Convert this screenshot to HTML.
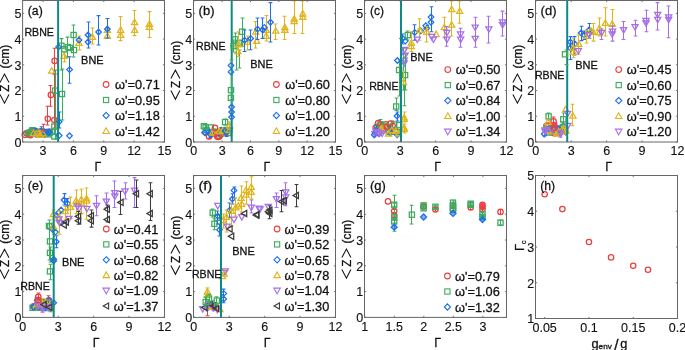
<!DOCTYPE html>
<html><head><meta charset="utf-8"><style>
html,body{margin:0;padding:0;background:#fff;overflow:hidden}
svg{display:block}
text{font-family:"Liberation Sans",sans-serif;fill:#111;stroke:#111;stroke-width:0.28px}
text.t{stroke-width:0.12px}
svg{will-change:transform}
</style></head><body>
<svg width="685" height="350" viewBox="0 0 685 350" font-family="Liberation Sans, sans-serif">
<rect width="685" height="350" fill="#fff"/>
<circle cx="24.79" cy="134.81" r="2.7" fill="none" stroke="#EC3F3F" stroke-width="1.25"/>
<circle cx="26.35" cy="133.23" r="2.7" fill="none" stroke="#EC3F3F" stroke-width="1.25"/>
<path d="M28.5 132.46V136.46M26.6 132.46H30.4M26.6 136.46H30.4" stroke="#EC3F3F" stroke-width="1.05" fill="none"/>
<circle cx="28.21" cy="134.55" r="2.7" fill="none" stroke="#EC3F3F" stroke-width="1.25"/>
<path d="M29.5 131.09V137.3M27.6 131.09H31.4M27.6 137.3H31.4" stroke="#EC3F3F" stroke-width="1.05" fill="none"/>
<circle cx="29.38" cy="134.43" r="2.7" fill="none" stroke="#EC3F3F" stroke-width="1.25"/>
<circle cx="30.57" cy="135.25" r="2.7" fill="none" stroke="#EC3F3F" stroke-width="1.25"/>
<circle cx="31.76" cy="131.11" r="2.7" fill="none" stroke="#EC3F3F" stroke-width="1.25"/>
<path d="M34.5 129.45V134.4M32.6 129.45H36.4M32.6 134.4H36.4" stroke="#EC3F3F" stroke-width="1.05" fill="none"/>
<circle cx="34.21" cy="132.72" r="2.7" fill="none" stroke="#EC3F3F" stroke-width="1.25"/>
<circle cx="34.81" cy="132.97" r="2.7" fill="none" stroke="#EC3F3F" stroke-width="1.25"/>
<path d="M36.5 128.66V134.22M34.6 128.66H38.4M34.6 134.22H38.4" stroke="#EC3F3F" stroke-width="1.05" fill="none"/>
<circle cx="36.24" cy="132.04" r="2.7" fill="none" stroke="#EC3F3F" stroke-width="1.25"/>
<circle cx="37.42" cy="134.77" r="2.7" fill="none" stroke="#EC3F3F" stroke-width="1.25"/>
<circle cx="39.54" cy="131.84" r="2.7" fill="none" stroke="#EC3F3F" stroke-width="1.25"/>
<circle cx="41.2" cy="131.54" r="2.7" fill="none" stroke="#EC3F3F" stroke-width="1.25"/>
<circle cx="42.46" cy="134.2" r="2.7" fill="none" stroke="#EC3F3F" stroke-width="1.25"/>
<circle cx="43.54" cy="134.74" r="2.7" fill="none" stroke="#EC3F3F" stroke-width="1.25"/>
<circle cx="44.82" cy="133.64" r="2.7" fill="none" stroke="#EC3F3F" stroke-width="1.25"/>
<circle cx="46.85" cy="133.27" r="2.7" fill="none" stroke="#EC3F3F" stroke-width="1.25"/>
<circle cx="47.35" cy="132.09" r="2.7" fill="none" stroke="#EC3F3F" stroke-width="1.25"/>
<circle cx="49.19" cy="131.78" r="2.7" fill="none" stroke="#EC3F3F" stroke-width="1.25"/>
<rect x="25.55" y="130.77" width="5.2" height="5.2" fill="none" stroke="#3CAB5E" stroke-width="1.25"/>
<rect x="26.92" y="129.94" width="5.2" height="5.2" fill="none" stroke="#3CAB5E" stroke-width="1.25"/>
<rect x="28.76" y="129.37" width="5.2" height="5.2" fill="none" stroke="#3CAB5E" stroke-width="1.25"/>
<rect x="29.81" y="127.62" width="5.2" height="5.2" fill="none" stroke="#3CAB5E" stroke-width="1.25"/>
<rect x="32.87" y="130.37" width="5.2" height="5.2" fill="none" stroke="#3CAB5E" stroke-width="1.25"/>
<rect x="33.48" y="129.91" width="5.2" height="5.2" fill="none" stroke="#3CAB5E" stroke-width="1.25"/>
<rect x="36.04" y="130.1" width="5.2" height="5.2" fill="none" stroke="#3CAB5E" stroke-width="1.25"/>
<rect x="37.03" y="129.97" width="5.2" height="5.2" fill="none" stroke="#3CAB5E" stroke-width="1.25"/>
<path d="M41.5 128.65V135.86M39.6 128.65H43.4M39.6 135.86H43.4" stroke="#3CAB5E" stroke-width="1.05" fill="none"/>
<rect x="39.24" y="129.7" width="5.2" height="5.2" fill="none" stroke="#3CAB5E" stroke-width="1.25"/>
<rect x="40.18" y="131.32" width="5.2" height="5.2" fill="none" stroke="#3CAB5E" stroke-width="1.25"/>
<rect x="43.14" y="131.1" width="5.2" height="5.2" fill="none" stroke="#3CAB5E" stroke-width="1.25"/>
<rect x="44.36" y="130.21" width="5.2" height="5.2" fill="none" stroke="#3CAB5E" stroke-width="1.25"/>
<rect x="45.45" y="131.75" width="5.2" height="5.2" fill="none" stroke="#3CAB5E" stroke-width="1.25"/>
<rect x="47.38" y="129.92" width="5.2" height="5.2" fill="none" stroke="#3CAB5E" stroke-width="1.25"/>
<rect x="49.33" y="129.13" width="5.2" height="5.2" fill="none" stroke="#3CAB5E" stroke-width="1.25"/>
<path d="M35.02 130.65L37.82 133.45L35.02 136.25L32.22 133.45Z" fill="none" stroke="#1F6FE8" stroke-width="1.25"/>
<path d="M35.5 128.17V135.41M33.6 128.17H37.4M33.6 135.41H37.4" stroke="#1F6FE8" stroke-width="1.05" fill="none"/>
<path d="M35.91 129.12L38.71 131.92L35.91 134.72L33.11 131.92Z" fill="none" stroke="#1F6FE8" stroke-width="1.25"/>
<path d="M38.66 131.39L41.46 134.19L38.66 136.99L35.86 134.19Z" fill="none" stroke="#1F6FE8" stroke-width="1.25"/>
<path d="M39.62 131.57L42.42 134.37L39.62 137.17L36.82 134.37Z" fill="none" stroke="#1F6FE8" stroke-width="1.25"/>
<path d="M41.5 126.8V133.73M39.6 126.8H43.4M39.6 133.73H43.4" stroke="#1F6FE8" stroke-width="1.05" fill="none"/>
<path d="M41.08 128.27L43.88 131.07L41.08 133.87L38.28 131.07Z" fill="none" stroke="#1F6FE8" stroke-width="1.25"/>
<path d="M42.82 130.7L45.62 133.5L42.82 136.3L40.02 133.5Z" fill="none" stroke="#1F6FE8" stroke-width="1.25"/>
<path d="M44.46 128.84L47.26 131.64L44.46 134.44L41.66 131.64Z" fill="none" stroke="#1F6FE8" stroke-width="1.25"/>
<path d="M46.3 129.29L49.1 132.09L46.3 134.89L43.5 132.09Z" fill="none" stroke="#1F6FE8" stroke-width="1.25"/>
<path d="M48.39 129.49L51.19 132.29L48.39 135.09L45.59 132.29Z" fill="none" stroke="#1F6FE8" stroke-width="1.25"/>
<path d="M49.5 129.75L52.3 132.55L49.5 135.35L46.7 132.55Z" fill="none" stroke="#1F6FE8" stroke-width="1.25"/>
<path d="M33.55 130.23L36.65 135.65L30.45 135.65Z" fill="none" stroke="#E0B41C" stroke-width="1.25"/>
<path d="M36.32 130.53L39.42 135.95L33.22 135.95Z" fill="none" stroke="#E0B41C" stroke-width="1.25"/>
<path d="M39.5 130.62V135.16M37.6 130.62H41.4M37.6 135.16H41.4" stroke="#E0B41C" stroke-width="1.05" fill="none"/>
<path d="M39.06 129.96L42.16 135.39L35.96 135.39Z" fill="none" stroke="#E0B41C" stroke-width="1.25"/>
<path d="M40.1 132.01L43.2 137.44L37 137.44Z" fill="none" stroke="#E0B41C" stroke-width="1.25"/>
<path d="M42.98 130.56L46.08 135.99L39.88 135.99Z" fill="none" stroke="#E0B41C" stroke-width="1.25"/>
<path d="M54.5 48.2V74M52.6 48.2H56.4M52.6 74H56.4" stroke="#EC3F3F" stroke-width="1.05" fill="none"/>
<circle cx="54.6" cy="60.9" r="2.7" fill="none" stroke="#EC3F3F" stroke-width="1.25"/>
<path d="M51.7 67.8L54.8 73.23L48.6 73.23Z" fill="none" stroke="#E0B41C" stroke-width="1.25"/>
<path d="M50.5 85.4V106.2M48.6 85.4H52.4M48.6 106.2H52.4" stroke="#EC3F3F" stroke-width="1.05" fill="none"/>
<circle cx="50.9" cy="94.9" r="2.7" fill="none" stroke="#EC3F3F" stroke-width="1.25"/>
<path d="M47.5 106.2V125M45.6 106.2H49.4M45.6 125H49.4" stroke="#EC3F3F" stroke-width="1.05" fill="none"/>
<circle cx="47.8" cy="118.8" r="2.7" fill="none" stroke="#EC3F3F" stroke-width="1.25"/>
<path d="M54.5 74V128M52.6 74H56.4M52.6 128H56.4" stroke="#EC3F3F" stroke-width="1.05" fill="none"/>
<circle cx="54.3" cy="120" r="2.7" fill="none" stroke="#EC3F3F" stroke-width="1.25"/>
<path d="M43.5 124.2V131M41.6 124.2H45.4M41.6 131H45.4" stroke="#EC3F3F" stroke-width="1.05" fill="none"/>
<path d="M64.5 52V62M62.6 52H66.4M62.6 62H66.4" stroke="#E0B41C" stroke-width="1.05" fill="none"/>
<path d="M64 52.9L67.1 58.33L60.9 58.33Z" fill="none" stroke="#E0B41C" stroke-width="1.25"/>
<path d="M79.5 36V50M77.6 36H81.4M77.6 50H81.4" stroke="#E0B41C" stroke-width="1.05" fill="none"/>
<path d="M79 39.9L82.1 45.33L75.9 45.33Z" fill="none" stroke="#E0B41C" stroke-width="1.25"/>
<path d="M92.5 28V44M90.6 28H94.4M90.6 44H94.4" stroke="#E0B41C" stroke-width="1.05" fill="none"/>
<path d="M92.4 33.9L95.5 39.33L89.3 39.33Z" fill="none" stroke="#E0B41C" stroke-width="1.25"/>
<path d="M107.5 18.4V38M105.6 18.4H109.4M105.6 38H109.4" stroke="#E0B41C" stroke-width="1.05" fill="none"/>
<path d="M107.4 26.9L110.5 32.33L104.3 32.33Z" fill="none" stroke="#E0B41C" stroke-width="1.25"/>
<path d="M107.4 32.9L110.5 38.33L104.3 38.33Z" fill="none" stroke="#E0B41C" stroke-width="1.25"/>
<path d="M120.5 16.4V40.6M118.6 16.4H122.4M118.6 40.6H122.4" stroke="#E0B41C" stroke-width="1.05" fill="none"/>
<path d="M120.6 26.9L123.7 32.33L117.5 32.33Z" fill="none" stroke="#E0B41C" stroke-width="1.25"/>
<path d="M120.6 31.9L123.7 37.33L117.5 37.33Z" fill="none" stroke="#E0B41C" stroke-width="1.25"/>
<path d="M134.5 10.4V35.6M132.6 10.4H136.4M132.6 35.6H136.4" stroke="#E0B41C" stroke-width="1.05" fill="none"/>
<path d="M134.6 19.3L137.7 24.72L131.5 24.72Z" fill="none" stroke="#E0B41C" stroke-width="1.25"/>
<path d="M134.6 26.9L137.7 32.33L131.5 32.33Z" fill="none" stroke="#E0B41C" stroke-width="1.25"/>
<path d="M149.5 11.6V37.4M147.6 11.6H151.4M147.6 37.4H151.4" stroke="#E0B41C" stroke-width="1.05" fill="none"/>
<path d="M149.4 20.9L152.5 26.32L146.3 26.32Z" fill="none" stroke="#E0B41C" stroke-width="1.25"/>
<path d="M149.4 23.9L152.5 29.32L146.3 29.32Z" fill="none" stroke="#E0B41C" stroke-width="1.25"/>
<path d="M61.5 38.6V70M59.6 38.6H63.4M59.6 70H63.4" stroke="#3CAB5E" stroke-width="1.05" fill="none"/>
<rect x="58.8" y="43.1" width="5.2" height="5.2" fill="none" stroke="#3CAB5E" stroke-width="1.25"/>
<rect x="61.7" y="46.7" width="5.2" height="5.2" fill="none" stroke="#3CAB5E" stroke-width="1.25"/>
<path d="M67.5 37.1V57M65.6 37.1H69.4M65.6 57H69.4" stroke="#3CAB5E" stroke-width="1.05" fill="none"/>
<rect x="65.3" y="44.5" width="5.2" height="5.2" fill="none" stroke="#3CAB5E" stroke-width="1.25"/>
<rect x="67.4" y="45.3" width="5.2" height="5.2" fill="none" stroke="#3CAB5E" stroke-width="1.25"/>
<path d="M73.5 25V57M71.6 25H75.4M71.6 57H75.4" stroke="#3CAB5E" stroke-width="1.05" fill="none"/>
<rect x="71" y="32.4" width="5.2" height="5.2" fill="none" stroke="#3CAB5E" stroke-width="1.25"/>
<rect x="71.4" y="47.4" width="5.2" height="5.2" fill="none" stroke="#3CAB5E" stroke-width="1.25"/>
<path d="M55.5 70V139M53.6 70H57.4M53.6 139H57.4" stroke="#3CAB5E" stroke-width="1.05" fill="none"/>
<rect x="52.5" y="88" width="5.2" height="5.2" fill="none" stroke="#3CAB5E" stroke-width="1.25"/>
<path d="M62.5 69V120M60.6 69H64.4M60.6 120H64.4" stroke="#3CAB5E" stroke-width="1.05" fill="none"/>
<rect x="59.4" y="91.4" width="5.2" height="5.2" fill="none" stroke="#3CAB5E" stroke-width="1.25"/>
<rect x="51.7" y="124" width="5.2" height="5.2" fill="none" stroke="#3CAB5E" stroke-width="1.25"/>
<rect x="51.7" y="133.8" width="5.2" height="5.2" fill="none" stroke="#3CAB5E" stroke-width="1.25"/>
<path d="M58.6 44.1L61.4 46.9L58.6 49.7L55.8 46.9Z" fill="none" stroke="#1F6FE8" stroke-width="1.25"/>
<path d="M79 37.2L81.8 40L79 42.8L76.2 40Z" fill="none" stroke="#1F6FE8" stroke-width="1.25"/>
<path d="M88.5 22V48M86.6 22H90.4M86.6 48H90.4" stroke="#1F6FE8" stroke-width="1.05" fill="none"/>
<path d="M88 32.2L90.8 35L88 37.8L85.2 35Z" fill="none" stroke="#1F6FE8" stroke-width="1.25"/>
<path d="M88 39.2L90.8 42L88 44.8L85.2 42Z" fill="none" stroke="#1F6FE8" stroke-width="1.25"/>
<path d="M98.5 15.6V45M96.6 15.6H100.4M96.6 45H100.4" stroke="#1F6FE8" stroke-width="1.05" fill="none"/>
<path d="M98.6 29.2L101.4 32L98.6 34.8L95.8 32Z" fill="none" stroke="#1F6FE8" stroke-width="1.25"/>
<path d="M107.5 18.4V38M105.6 18.4H109.4M105.6 38H109.4" stroke="#1F6FE8" stroke-width="1.05" fill="none"/>
<path d="M107.4 26.2L110.2 29L107.4 31.8L104.6 29Z" fill="none" stroke="#1F6FE8" stroke-width="1.25"/>
<path d="M69.5 56.7V83.3M67.6 56.7H71.4M67.6 83.3H71.4" stroke="#1F6FE8" stroke-width="1.05" fill="none"/>
<path d="M69.6 66.8L72.4 69.6L69.6 72.4L66.8 69.6Z" fill="none" stroke="#1F6FE8" stroke-width="1.25"/>
<path d="M59.5 112V128M57.6 112H61.4M57.6 128H61.4" stroke="#1F6FE8" stroke-width="1.05" fill="none"/>
<path d="M59.2 118.9L62 121.7L59.2 124.5L56.4 121.7Z" fill="none" stroke="#1F6FE8" stroke-width="1.25"/>
<path d="M59.2 132.8L62 135.6L59.2 138.4L56.4 135.6Z" fill="none" stroke="#1F6FE8" stroke-width="1.25"/>
<path d="M69.5 133L72.3 135.8L69.5 138.6L66.7 135.8Z" fill="none" stroke="#1F6FE8" stroke-width="1.25"/>
<path d="M58.1 0.5V142" stroke="#0A8A8A" stroke-width="2"/>
<path d="M43.04 142v-1.6M43.04 0.5v1.6M73.41 142v-1.6M73.41 0.5v1.6M103.77 142v-1.6M103.77 0.5v1.6M134.14 142v-1.6M134.14 0.5v1.6M164.5 142v-1.6M164.5 0.5v1.6M22.6 142h1.6M164.5 142h-1.6M22.6 116.27h1.6M164.5 116.27h-1.6M22.6 90.55h1.6M164.5 90.55h-1.6M22.6 64.82h1.6M164.5 64.82h-1.6M22.6 39.09h1.6M164.5 39.09h-1.6M22.6 13.36h1.6M164.5 13.36h-1.6" stroke="#666" stroke-width="0.9" fill="none"/>
<rect x="22.6" y="0.5" width="141.9" height="141.5" fill="none" stroke="#666" stroke-width="1"/>
<text x="43.04" y="155.2" font-size="12.5" text-anchor="middle" class="t">3</text>
<text x="73.41" y="155.2" font-size="12.5" text-anchor="middle" class="t">6</text>
<text x="103.77" y="155.2" font-size="12.5" text-anchor="middle" class="t">9</text>
<text x="134.14" y="155.2" font-size="12.5" text-anchor="middle" class="t">12</text>
<text x="164.5" y="155.2" font-size="12.5" text-anchor="middle" class="t">15</text>
<text x="21.4" y="146.8" font-size="12.5" text-anchor="end" class="t">0</text>
<text x="21.4" y="121.07" font-size="12.5" text-anchor="end" class="t">1</text>
<text x="21.4" y="95.35" font-size="12.5" text-anchor="end" class="t">2</text>
<text x="21.4" y="69.62" font-size="12.5" text-anchor="end" class="t">3</text>
<text x="21.4" y="43.89" font-size="12.5" text-anchor="end" class="t">4</text>
<text x="21.4" y="18.16" font-size="12.5" text-anchor="end" class="t">5</text>
<circle cx="106.1" cy="84.5" r="2.85" fill="none" stroke="#EC3F3F" stroke-width="1.1"/>
<text x="115.09" y="89.3" font-size="12.5" text-anchor="start" textLength="44.65" lengthAdjust="spacingAndGlyphs">ω'=0.71</text>
<rect x="103.5" y="97.4" width="5.2" height="5.2" fill="none" stroke="#3CAB5E" stroke-width="1.1"/>
<text x="115.09" y="104.8" font-size="12.5" text-anchor="start" textLength="44.65" lengthAdjust="spacingAndGlyphs">ω'=0.95</text>
<path d="M106.1 112.4L109.2 115.5L106.1 118.6L103 115.5Z" fill="none" stroke="#1F6FE8" stroke-width="1.1"/>
<text x="115.09" y="120.3" font-size="12.5" text-anchor="start" textLength="44.65" lengthAdjust="spacingAndGlyphs">ω'=1.18</text>
<path d="M106.1 127.75L109.35 133.44L102.85 133.44Z" fill="none" stroke="#E0B41C" stroke-width="1.1"/>
<text x="115.09" y="135.8" font-size="12.5" text-anchor="start" textLength="44.65" lengthAdjust="spacingAndGlyphs">ω'=1.42</text>
<text x="24.45" y="35.5" font-size="10.9" text-anchor="start" textLength="29.46" lengthAdjust="spacingAndGlyphs">RBNE</text>
<text x="81.13" y="63.6" font-size="10.9" text-anchor="start" textLength="22.47" lengthAdjust="spacingAndGlyphs">BNE</text>
<text x="27.76" y="14.75" font-size="13.12" text-anchor="start" textLength="15" lengthAdjust="spacingAndGlyphs">(a)</text>
<g transform="translate(-341.9,0)"><path d="M341.9 82.5L346.4 74.1L350.9 82.5M341.9 94.4L346.4 103.2L350.9 94.4" fill="none" stroke="#111" stroke-width="1.05"/><text transform="translate(351.1,91.85) rotate(-90)" font-size="12.6" textLength="7.11" lengthAdjust="spacingAndGlyphs">Z</text><text transform="translate(351.0,68.51) rotate(-90)" font-size="12.2" textLength="23.82" lengthAdjust="spacingAndGlyphs">(cm)</text></g>
<text x="94.52" y="171.3" font-size="13.3" text-anchor="start" textLength="6.76" lengthAdjust="spacingAndGlyphs">Γ</text>
<path d="M209.5 134.28V138.6M207.6 134.28H211.4M207.6 138.6H211.4" stroke="#EC3F3F" stroke-width="1.05" fill="none"/>
<circle cx="209.05" cy="136.53" r="2.7" fill="none" stroke="#EC3F3F" stroke-width="1.25"/>
<circle cx="211.01" cy="134.03" r="2.7" fill="none" stroke="#EC3F3F" stroke-width="1.25"/>
<circle cx="213.14" cy="133.46" r="2.7" fill="none" stroke="#EC3F3F" stroke-width="1.25"/>
<circle cx="214.66" cy="131.88" r="2.7" fill="none" stroke="#EC3F3F" stroke-width="1.25"/>
<circle cx="218.11" cy="136.95" r="2.7" fill="none" stroke="#EC3F3F" stroke-width="1.25"/>
<path d="M220.5 129.9V133.09M218.6 129.9H222.4M218.6 133.09H222.4" stroke="#EC3F3F" stroke-width="1.05" fill="none"/>
<circle cx="220.15" cy="132" r="2.7" fill="none" stroke="#EC3F3F" stroke-width="1.25"/>
<circle cx="222.37" cy="130.87" r="2.7" fill="none" stroke="#EC3F3F" stroke-width="1.25"/>
<circle cx="225.56" cy="132.73" r="2.7" fill="none" stroke="#EC3F3F" stroke-width="1.25"/>
<rect x="201.27" y="123.59" width="5.2" height="5.2" fill="none" stroke="#3CAB5E" stroke-width="1.25"/>
<rect x="204.03" y="127.48" width="5.2" height="5.2" fill="none" stroke="#3CAB5E" stroke-width="1.25"/>
<rect x="208.32" y="124.85" width="5.2" height="5.2" fill="none" stroke="#3CAB5E" stroke-width="1.25"/>
<rect x="211.61" y="129.28" width="5.2" height="5.2" fill="none" stroke="#3CAB5E" stroke-width="1.25"/>
<rect x="214.53" y="129.72" width="5.2" height="5.2" fill="none" stroke="#3CAB5E" stroke-width="1.25"/>
<path d="M220.5 129.43V137.35M218.6 129.43H222.4M218.6 137.35H222.4" stroke="#3CAB5E" stroke-width="1.05" fill="none"/>
<rect x="218.05" y="131.1" width="5.2" height="5.2" fill="none" stroke="#3CAB5E" stroke-width="1.25"/>
<rect x="219.81" y="127.64" width="5.2" height="5.2" fill="none" stroke="#3CAB5E" stroke-width="1.25"/>
<rect x="223.92" y="127.41" width="5.2" height="5.2" fill="none" stroke="#3CAB5E" stroke-width="1.25"/>
<rect x="225.55" y="130.46" width="5.2" height="5.2" fill="none" stroke="#3CAB5E" stroke-width="1.25"/>
<path d="M204.58 129.61L207.38 132.41L204.58 135.21L201.78 132.41Z" fill="none" stroke="#1F6FE8" stroke-width="1.25"/>
<path d="M208.5 128.95V134.45M206.6 128.95H210.4M206.6 134.45H210.4" stroke="#1F6FE8" stroke-width="1.05" fill="none"/>
<path d="M208.67 129.12L211.47 131.92L208.67 134.72L205.87 131.92Z" fill="none" stroke="#1F6FE8" stroke-width="1.25"/>
<path d="M210.5 129.71V137.55M208.6 129.71H212.4M208.6 137.55H212.4" stroke="#1F6FE8" stroke-width="1.05" fill="none"/>
<path d="M210.54 131.65L213.34 134.45L210.54 137.25L207.74 134.45Z" fill="none" stroke="#1F6FE8" stroke-width="1.25"/>
<path d="M216.05 130.44L218.85 133.24L216.05 136.04L213.25 133.24Z" fill="none" stroke="#1F6FE8" stroke-width="1.25"/>
<path d="M218.24 130.11L221.04 132.91L218.24 135.71L215.44 132.91Z" fill="none" stroke="#1F6FE8" stroke-width="1.25"/>
<path d="M221.05 127.45L223.85 130.25L221.05 133.05L218.25 130.25Z" fill="none" stroke="#1F6FE8" stroke-width="1.25"/>
<path d="M226.5 128.28V136.59M224.6 128.28H228.4M224.6 136.59H228.4" stroke="#1F6FE8" stroke-width="1.05" fill="none"/>
<path d="M226.11 129.94L228.91 132.74L226.11 135.54L223.31 132.74Z" fill="none" stroke="#1F6FE8" stroke-width="1.25"/>
<path d="M229.41 127.35L232.21 130.15L229.41 132.95L226.61 130.15Z" fill="none" stroke="#1F6FE8" stroke-width="1.25"/>
<path d="M212.5 129.93V135.12M210.6 129.93H214.4M210.6 135.12H214.4" stroke="#E0B41C" stroke-width="1.05" fill="none"/>
<path d="M212.69 129.51L215.79 134.94L209.59 134.94Z" fill="none" stroke="#E0B41C" stroke-width="1.25"/>
<path d="M217.53 128.99L220.63 134.41L214.43 134.41Z" fill="none" stroke="#E0B41C" stroke-width="1.25"/>
<path d="M222.71 127.74L225.81 133.17L219.61 133.17Z" fill="none" stroke="#E0B41C" stroke-width="1.25"/>
<path d="M205.5 125V129M203.6 125H207.4M203.6 129H207.4" stroke="#3CAB5E" stroke-width="1.05" fill="none"/>
<rect x="203" y="124.5" width="5.2" height="5.2" fill="none" stroke="#3CAB5E" stroke-width="1.25"/>
<path d="M225.5 119V125M223.6 119H227.4M223.6 125H227.4" stroke="#3CAB5E" stroke-width="1.05" fill="none"/>
<rect x="222.5" y="119.5" width="5.2" height="5.2" fill="none" stroke="#3CAB5E" stroke-width="1.25"/>
<circle cx="217.3" cy="136.4" r="2.7" fill="none" stroke="#EC3F3F" stroke-width="1.25"/>
<circle cx="219.4" cy="136.4" r="2.7" fill="none" stroke="#EC3F3F" stroke-width="1.25"/>
<circle cx="215" cy="127.9" r="2.7" fill="none" stroke="#EC3F3F" stroke-width="1.25"/>
<path d="M205.1 130.1L207.9 132.9L205.1 135.7L202.3 132.9Z" fill="none" stroke="#1F6FE8" stroke-width="1.25"/>
<path d="M225.1 127.9L227.9 130.7L225.1 133.5L222.3 130.7Z" fill="none" stroke="#1F6FE8" stroke-width="1.25"/>
<path d="M219.4 128.3L222.5 133.72L216.3 133.72Z" fill="none" stroke="#E0B41C" stroke-width="1.25"/>
<path d="M229.5 122V129M227.6 122H231.4M227.6 129H231.4" stroke="#E0B41C" stroke-width="1.05" fill="none"/>
<path d="M229.4 122.6L232.5 128.03L226.3 128.03Z" fill="none" stroke="#E0B41C" stroke-width="1.25"/>
<path d="M229.4 126.9L232.5 132.32L226.3 132.32Z" fill="none" stroke="#E0B41C" stroke-width="1.25"/>
<path d="M231.5 100V128M229.6 100H233.4M229.6 128H233.4" stroke="#1F6FE8" stroke-width="1.05" fill="none"/>
<path d="M231.7 0.5V142" stroke="#0A8A8A" stroke-width="2"/>
<path d="M231.5 60V112M229.6 60H233.4M229.6 112H233.4" stroke="#3CAB5E" stroke-width="1.05" fill="none"/>
<rect x="228.3" y="95.3" width="5.2" height="5.2" fill="none" stroke="#3CAB5E" stroke-width="1.25"/>
<rect x="228.4" y="87.6" width="5.2" height="5.2" fill="none" stroke="#3CAB5E" stroke-width="1.25"/>
<path d="M231.6 104.3L234.4 107.1L231.6 109.9L228.8 107.1Z" fill="none" stroke="#1F6FE8" stroke-width="1.25"/>
<path d="M231.6 114.3L234.4 117.1L231.6 119.9L228.8 117.1Z" fill="none" stroke="#1F6FE8" stroke-width="1.25"/>
<path d="M231.6 109.3L234.4 112.1L231.6 114.9L228.8 112.1Z" fill="none" stroke="#1F6FE8" stroke-width="1.25"/>
<path d="M231 62.6L233.8 65.4L231 68.2L228.2 65.4Z" fill="none" stroke="#1F6FE8" stroke-width="1.25"/>
<path d="M231 69.1L233.8 71.9L231 74.7L228.2 71.9Z" fill="none" stroke="#1F6FE8" stroke-width="1.25"/>
<path d="M236.5 48V70M234.6 48H238.4M234.6 70H238.4" stroke="#3CAB5E" stroke-width="1.05" fill="none"/>
<path d="M239.5 50V68M237.6 50H241.4M237.6 68H241.4" stroke="#3CAB5E" stroke-width="1.05" fill="none"/>
<path d="M235.5 33V46M233.6 33H237.4M233.6 46H237.4" stroke="#3CAB5E" stroke-width="1.05" fill="none"/>
<rect x="232.7" y="36.8" width="5.2" height="5.2" fill="none" stroke="#3CAB5E" stroke-width="1.25"/>
<rect x="236.1" y="40.2" width="5.2" height="5.2" fill="none" stroke="#3CAB5E" stroke-width="1.25"/>
<path d="M242.5 18V46.2M240.6 18H244.4M240.6 46.2H244.4" stroke="#3CAB5E" stroke-width="1.05" fill="none"/>
<rect x="239.5" y="29.1" width="5.2" height="5.2" fill="none" stroke="#3CAB5E" stroke-width="1.25"/>
<path d="M233.5 40V52M231.6 40H235.4M231.6 52H235.4" stroke="#3CAB5E" stroke-width="1.05" fill="none"/>
<rect x="231" y="43.6" width="5.2" height="5.2" fill="none" stroke="#3CAB5E" stroke-width="1.25"/>
<path d="M238.5 31.7V56.5M236.6 31.7H240.4M236.6 56.5H240.4" stroke="#E0B41C" stroke-width="1.05" fill="none"/>
<path d="M238.7 41.4L241.8 46.83L235.6 46.83Z" fill="none" stroke="#E0B41C" stroke-width="1.25"/>
<path d="M237.8 48.3L240.9 53.73L234.7 53.73Z" fill="none" stroke="#E0B41C" stroke-width="1.25"/>
<path d="M247.5 36V50M245.6 36H249.4M245.6 50H249.4" stroke="#E0B41C" stroke-width="1.05" fill="none"/>
<path d="M247.3 38.9L250.4 44.33L244.2 44.33Z" fill="none" stroke="#E0B41C" stroke-width="1.25"/>
<path d="M255.5 21.4V48M253.6 21.4H257.4M253.6 48H257.4" stroke="#E0B41C" stroke-width="1.05" fill="none"/>
<path d="M255.8 28.6L258.9 34.02L252.7 34.02Z" fill="none" stroke="#E0B41C" stroke-width="1.25"/>
<path d="M256.7 38L259.8 43.43L253.6 43.43Z" fill="none" stroke="#E0B41C" stroke-width="1.25"/>
<path d="M266.5 15.4V41M264.6 15.4H268.4M264.6 41H268.4" stroke="#E0B41C" stroke-width="1.05" fill="none"/>
<path d="M266.1 26.9L269.2 32.33L263 32.33Z" fill="none" stroke="#E0B41C" stroke-width="1.25"/>
<path d="M266.1 32.9L269.2 38.33L263 38.33Z" fill="none" stroke="#E0B41C" stroke-width="1.25"/>
<path d="M275.5 24V39.4M273.6 24H277.4M273.6 39.4H277.4" stroke="#E0B41C" stroke-width="1.05" fill="none"/>
<path d="M275.8 27.7L278.9 33.12L272.7 33.12Z" fill="none" stroke="#E0B41C" stroke-width="1.25"/>
<path d="M284.5 16.3V39.4M282.6 16.3H286.4M282.6 39.4H286.4" stroke="#E0B41C" stroke-width="1.05" fill="none"/>
<path d="M284.9 24.3L288 29.72L281.8 29.72Z" fill="none" stroke="#E0B41C" stroke-width="1.25"/>
<path d="M284.9 26.9L288 32.33L281.8 32.33Z" fill="none" stroke="#E0B41C" stroke-width="1.25"/>
<path d="M294.5 0.9V33.4M292.6 0.9H296.4M292.6 33.4H296.4" stroke="#E0B41C" stroke-width="1.05" fill="none"/>
<path d="M294.2 15.7L297.3 21.12L291.1 21.12Z" fill="none" stroke="#E0B41C" stroke-width="1.25"/>
<path d="M294.2 18.3L297.3 23.72L291.1 23.72Z" fill="none" stroke="#E0B41C" stroke-width="1.25"/>
<path d="M302.5 0.9V33.4M300.6 0.9H304.4M300.6 33.4H304.4" stroke="#E0B41C" stroke-width="1.05" fill="none"/>
<path d="M302.8 10.6L305.9 16.02L299.7 16.02Z" fill="none" stroke="#E0B41C" stroke-width="1.25"/>
<path d="M302.8 14L305.9 19.43L299.7 19.43Z" fill="none" stroke="#E0B41C" stroke-width="1.25"/>
<path d="M244.5 30V51.4M242.6 30H246.4M242.6 51.4H246.4" stroke="#1F6FE8" stroke-width="1.05" fill="none"/>
<path d="M244.7 37.4L247.5 40.2L244.7 43L241.9 40.2Z" fill="none" stroke="#1F6FE8" stroke-width="1.25"/>
<path d="M250.5 30V49.7M248.6 30H252.4M248.6 49.7H252.4" stroke="#1F6FE8" stroke-width="1.05" fill="none"/>
<path d="M250.7 35.7L253.5 38.5L250.7 41.3L247.9 38.5Z" fill="none" stroke="#1F6FE8" stroke-width="1.25"/>
<path d="M257.5 18V39.4M255.6 18H259.4M255.6 39.4H259.4" stroke="#1F6FE8" stroke-width="1.05" fill="none"/>
<path d="M257.5 26.3L260.3 29.1L257.5 31.9L254.7 29.1Z" fill="none" stroke="#1F6FE8" stroke-width="1.25"/>
<path d="M262.5 18V38.5M260.6 18H264.4M260.6 38.5H264.4" stroke="#1F6FE8" stroke-width="1.05" fill="none"/>
<path d="M262.7 27.2L265.5 30L262.7 32.8L259.9 30Z" fill="none" stroke="#1F6FE8" stroke-width="1.25"/>
<path d="M264.4 24.6L267.2 27.4L264.4 30.2L261.6 27.4Z" fill="none" stroke="#1F6FE8" stroke-width="1.25"/>
<path d="M270.5 2.6V42M268.6 2.6H272.4M268.6 42H272.4" stroke="#1F6FE8" stroke-width="1.05" fill="none"/>
<path d="M270.5 19.5L273.3 22.3L270.5 25.1L267.7 22.3Z" fill="none" stroke="#1F6FE8" stroke-width="1.25"/>
<path d="M193.8 142v-1.6M193.8 0.5v1.6M222.14 142v-1.6M222.14 0.5v1.6M250.48 142v-1.6M250.48 0.5v1.6M278.82 142v-1.6M278.82 0.5v1.6M307.16 142v-1.6M307.16 0.5v1.6M335.5 142v-1.6M335.5 0.5v1.6M193.5 142h1.6M335.5 142h-1.6M193.5 116.27h1.6M335.5 116.27h-1.6M193.5 90.55h1.6M335.5 90.55h-1.6M193.5 64.82h1.6M335.5 64.82h-1.6M193.5 39.09h1.6M335.5 39.09h-1.6M193.5 13.36h1.6M335.5 13.36h-1.6" stroke="#666" stroke-width="0.9" fill="none"/>
<rect x="193.5" y="0.5" width="142" height="141.5" fill="none" stroke="#666" stroke-width="1"/>
<text x="193.8" y="155.2" font-size="12.5" text-anchor="middle" class="t">0</text>
<text x="222.14" y="155.2" font-size="12.5" text-anchor="middle" class="t">3</text>
<text x="250.48" y="155.2" font-size="12.5" text-anchor="middle" class="t">6</text>
<text x="278.82" y="155.2" font-size="12.5" text-anchor="middle" class="t">9</text>
<text x="307.16" y="155.2" font-size="12.5" text-anchor="middle" class="t">12</text>
<text x="335.5" y="155.2" font-size="12.5" text-anchor="middle" class="t">15</text>
<text x="192.3" y="146.8" font-size="12.5" text-anchor="end" class="t">0</text>
<text x="192.3" y="121.07" font-size="12.5" text-anchor="end" class="t">1</text>
<text x="192.3" y="95.35" font-size="12.5" text-anchor="end" class="t">2</text>
<text x="192.3" y="69.62" font-size="12.5" text-anchor="end" class="t">3</text>
<text x="192.3" y="43.89" font-size="12.5" text-anchor="end" class="t">4</text>
<text x="192.3" y="18.16" font-size="12.5" text-anchor="end" class="t">5</text>
<circle cx="276.4" cy="84.5" r="2.85" fill="none" stroke="#EC3F3F" stroke-width="1.1"/>
<text x="285.19" y="89.3" font-size="12.5" text-anchor="start" textLength="44.65" lengthAdjust="spacingAndGlyphs">ω'=0.60</text>
<rect x="273.8" y="97.4" width="5.2" height="5.2" fill="none" stroke="#3CAB5E" stroke-width="1.1"/>
<text x="285.19" y="104.8" font-size="12.5" text-anchor="start" textLength="44.65" lengthAdjust="spacingAndGlyphs">ω'=0.80</text>
<path d="M276.4 112.4L279.5 115.5L276.4 118.6L273.3 115.5Z" fill="none" stroke="#1F6FE8" stroke-width="1.1"/>
<text x="285.19" y="120.3" font-size="12.5" text-anchor="start" textLength="44.65" lengthAdjust="spacingAndGlyphs">ω'=1.00</text>
<path d="M276.4 127.75L279.65 133.44L273.15 133.44Z" fill="none" stroke="#E0B41C" stroke-width="1.1"/>
<text x="285.19" y="135.8" font-size="12.5" text-anchor="start" textLength="44.65" lengthAdjust="spacingAndGlyphs">ω'=1.20</text>
<text x="196.05" y="49.7" font-size="10.9" text-anchor="start" textLength="29.46" lengthAdjust="spacingAndGlyphs">RBNE</text>
<text x="250.33" y="68" font-size="10.9" text-anchor="start" textLength="22.47" lengthAdjust="spacingAndGlyphs">BNE</text>
<text x="198.62" y="15.15" font-size="13.12" text-anchor="start" textLength="15.89" lengthAdjust="spacingAndGlyphs">(b)</text>
<g transform="translate(-171,-3.9)"><path d="M341.9 82.5L346.4 74.1L350.9 82.5M341.9 94.4L346.4 103.2L350.9 94.4" fill="none" stroke="#111" stroke-width="1.05"/><text transform="translate(351.1,91.85) rotate(-90)" font-size="12.6" textLength="7.11" lengthAdjust="spacingAndGlyphs">Z</text><text transform="translate(351.0,68.51) rotate(-90)" font-size="12.2" textLength="23.82" lengthAdjust="spacingAndGlyphs">(cm)</text></g>
<text x="263.42" y="171.3" font-size="13.3" text-anchor="start" textLength="6.76" lengthAdjust="spacingAndGlyphs">Γ</text>
<circle cx="375.68" cy="127.9" r="2.7" fill="none" stroke="#EC3F3F" stroke-width="1.25"/>
<path d="M378.5 126.59V130.51M376.6 126.59H380.4M376.6 130.51H380.4" stroke="#EC3F3F" stroke-width="1.05" fill="none"/>
<circle cx="378.69" cy="128.63" r="2.7" fill="none" stroke="#EC3F3F" stroke-width="1.25"/>
<circle cx="380.38" cy="125.11" r="2.7" fill="none" stroke="#EC3F3F" stroke-width="1.25"/>
<circle cx="383.11" cy="130.53" r="2.7" fill="none" stroke="#EC3F3F" stroke-width="1.25"/>
<circle cx="385.76" cy="124.36" r="2.7" fill="none" stroke="#EC3F3F" stroke-width="1.25"/>
<circle cx="388.52" cy="127.71" r="2.7" fill="none" stroke="#EC3F3F" stroke-width="1.25"/>
<circle cx="390.49" cy="123.58" r="2.7" fill="none" stroke="#EC3F3F" stroke-width="1.25"/>
<path d="M392.5 121.11V129.1M390.6 121.11H394.4M390.6 129.1H394.4" stroke="#EC3F3F" stroke-width="1.05" fill="none"/>
<circle cx="392.67" cy="125.71" r="2.7" fill="none" stroke="#EC3F3F" stroke-width="1.25"/>
<circle cx="395.24" cy="130.91" r="2.7" fill="none" stroke="#EC3F3F" stroke-width="1.25"/>
<rect x="374.49" y="124.35" width="5.2" height="5.2" fill="none" stroke="#3CAB5E" stroke-width="1.25"/>
<rect x="376.04" y="129.76" width="5.2" height="5.2" fill="none" stroke="#3CAB5E" stroke-width="1.25"/>
<path d="M380.5 119.46V127.88M378.6 119.46H382.4M378.6 127.88H382.4" stroke="#3CAB5E" stroke-width="1.05" fill="none"/>
<rect x="377.84" y="121.76" width="5.2" height="5.2" fill="none" stroke="#3CAB5E" stroke-width="1.25"/>
<rect x="381.4" y="123.41" width="5.2" height="5.2" fill="none" stroke="#3CAB5E" stroke-width="1.25"/>
<rect x="383.42" y="123.91" width="5.2" height="5.2" fill="none" stroke="#3CAB5E" stroke-width="1.25"/>
<rect x="386.32" y="129.44" width="5.2" height="5.2" fill="none" stroke="#3CAB5E" stroke-width="1.25"/>
<rect x="389.51" y="128.96" width="5.2" height="5.2" fill="none" stroke="#3CAB5E" stroke-width="1.25"/>
<rect x="391.49" y="122.03" width="5.2" height="5.2" fill="none" stroke="#3CAB5E" stroke-width="1.25"/>
<rect x="394.58" y="129.45" width="5.2" height="5.2" fill="none" stroke="#3CAB5E" stroke-width="1.25"/>
<rect x="396.58" y="122.51" width="5.2" height="5.2" fill="none" stroke="#3CAB5E" stroke-width="1.25"/>
<path d="M376.5 125.43V134.53M374.6 125.43H378.4M374.6 134.53H378.4" stroke="#1F6FE8" stroke-width="1.05" fill="none"/>
<path d="M376.24 127.19L379.04 129.99L376.24 132.79L373.44 129.99Z" fill="none" stroke="#1F6FE8" stroke-width="1.25"/>
<path d="M378.68 130.8L381.48 133.6L378.68 136.4L375.88 133.6Z" fill="none" stroke="#1F6FE8" stroke-width="1.25"/>
<path d="M382.88 127.26L385.68 130.06L382.88 132.86L380.08 130.06Z" fill="none" stroke="#1F6FE8" stroke-width="1.25"/>
<path d="M389.19 125.51L391.99 128.31L389.19 131.11L386.39 128.31Z" fill="none" stroke="#1F6FE8" stroke-width="1.25"/>
<path d="M390.54 130.23L393.34 133.03L390.54 135.83L387.74 133.03Z" fill="none" stroke="#1F6FE8" stroke-width="1.25"/>
<path d="M397.22 132.06L400.02 134.86L397.22 137.66L394.42 134.86Z" fill="none" stroke="#1F6FE8" stroke-width="1.25"/>
<path d="M380.5 125.37V131.13M378.6 125.37H382.4M378.6 131.13H382.4" stroke="#E0B41C" stroke-width="1.05" fill="none"/>
<path d="M380.82 126.07L383.92 131.49L377.72 131.49Z" fill="none" stroke="#E0B41C" stroke-width="1.25"/>
<path d="M381.95 126.76L385.05 132.18L378.85 132.18Z" fill="none" stroke="#E0B41C" stroke-width="1.25"/>
<path d="M384.99 124.2L388.09 129.62L381.89 129.62Z" fill="none" stroke="#E0B41C" stroke-width="1.25"/>
<path d="M388.53 130.61L391.63 136.04L385.43 136.04Z" fill="none" stroke="#E0B41C" stroke-width="1.25"/>
<path d="M391.84 127.12L394.94 132.55L388.74 132.55Z" fill="none" stroke="#E0B41C" stroke-width="1.25"/>
<path d="M395.65 128.07L398.75 133.49L392.55 133.49Z" fill="none" stroke="#E0B41C" stroke-width="1.25"/>
<path d="M398.73 130.48L401.83 135.91L395.63 135.91Z" fill="none" stroke="#E0B41C" stroke-width="1.25"/>
<path d="M374.5 130.98V136.75M372.6 130.98H376.4M372.6 136.75H376.4" stroke="#A66FEA" stroke-width="1.05" fill="none"/>
<path d="M374.93 136.98L378.03 131.56L371.83 131.56Z" fill="none" stroke="#A66FEA" stroke-width="1.25"/>
<path d="M379.5 129.95V135.76M377.6 129.95H381.4M377.6 135.76H381.4" stroke="#A66FEA" stroke-width="1.05" fill="none"/>
<path d="M379.57 136.29L382.67 130.87L376.47 130.87Z" fill="none" stroke="#A66FEA" stroke-width="1.25"/>
<path d="M382.17 136.56L385.27 131.14L379.07 131.14Z" fill="none" stroke="#A66FEA" stroke-width="1.25"/>
<circle cx="378.2" cy="123" r="2.7" fill="none" stroke="#EC3F3F" stroke-width="1.25"/>
<circle cx="386.8" cy="127" r="2.7" fill="none" stroke="#EC3F3F" stroke-width="1.25"/>
<path d="M374.2 132L377 134.8L374.2 137.6L371.4 134.8Z" fill="none" stroke="#1F6FE8" stroke-width="1.25"/>
<path d="M376.6 134.8L379.7 129.38L373.5 129.38Z" fill="none" stroke="#A66FEA" stroke-width="1.25"/>
<path d="M396.5 97.9V110.4M394.6 97.9H398.4M394.6 110.4H398.4" stroke="#3CAB5E" stroke-width="1.05" fill="none"/>
<rect x="393.6" y="103.9" width="5.2" height="5.2" fill="none" stroke="#3CAB5E" stroke-width="1.25"/>
<path d="M404.5 85V105.7M402.6 85H406.4M402.6 105.7H406.4" stroke="#3CAB5E" stroke-width="1.05" fill="none"/>
<path d="M397.5 112V121M395.6 112H399.4M395.6 121H399.4" stroke="#1F6FE8" stroke-width="1.05" fill="none"/>
<path d="M397 113.2L399.8 116L397 118.8L394.2 116Z" fill="none" stroke="#1F6FE8" stroke-width="1.25"/>
<path d="M404.5 112V122M402.6 112H406.4M402.6 122H406.4" stroke="#E0B41C" stroke-width="1.05" fill="none"/>
<path d="M404.1 114.4L407.2 119.83L401 119.83Z" fill="none" stroke="#E0B41C" stroke-width="1.25"/>
<path d="M404.1 116L407.2 121.42L401 121.42Z" fill="none" stroke="#E0B41C" stroke-width="1.25"/>
<path d="M404.5 124V133M402.6 124H406.4M402.6 133H406.4" stroke="#E0B41C" stroke-width="1.05" fill="none"/>
<path d="M404.1 124.6L407.2 130.03L401 130.03Z" fill="none" stroke="#E0B41C" stroke-width="1.25"/>
<path d="M404.1 126.2L407.2 131.62L401 131.62Z" fill="none" stroke="#E0B41C" stroke-width="1.25"/>
<path d="M403.5 48V90M401.6 48H405.4M401.6 90H405.4" stroke="#3CAB5E" stroke-width="1.05" fill="none"/>
<path d="M399.5 60V96M397.6 60H401.4M397.6 96H401.4" stroke="#3CAB5E" stroke-width="1.05" fill="none"/>
<path d="M397.4 57.7L400.2 60.5L397.4 63.3L394.6 60.5Z" fill="none" stroke="#1F6FE8" stroke-width="1.25"/>
<path d="M404.2 63.6L407.3 58.17L401.1 58.17Z" fill="none" stroke="#A66FEA" stroke-width="1.25"/>
<path d="M404.2 66.2L407.3 60.77L401.1 60.77Z" fill="none" stroke="#A66FEA" stroke-width="1.25"/>
<path d="M404.2 53.4L407.3 47.97L401.1 47.97Z" fill="none" stroke="#A66FEA" stroke-width="1.25"/>
<path d="M405.1 58.5L408.2 53.07L402 53.07Z" fill="none" stroke="#A66FEA" stroke-width="1.25"/>
<rect x="396.5" y="67.4" width="5.2" height="5.2" fill="none" stroke="#3CAB5E" stroke-width="1.25"/>
<path d="M405.5 54V90M403.6 54H407.4M403.6 90H407.4" stroke="#3CAB5E" stroke-width="1.05" fill="none"/>
<rect x="402.5" y="72.5" width="5.2" height="5.2" fill="none" stroke="#3CAB5E" stroke-width="1.25"/>
<path d="M403.5 70.8V84.5M401.6 70.8H405.4M401.6 84.5H405.4" stroke="#E0B41C" stroke-width="1.05" fill="none"/>
<path d="M403.4 78.9L406.5 84.33L400.3 84.33Z" fill="none" stroke="#E0B41C" stroke-width="1.25"/>
<path d="M402.5 34V44M400.6 34H404.4M400.6 44H404.4" stroke="#1F6FE8" stroke-width="1.05" fill="none"/>
<path d="M402.7 35.7L405.5 38.5L402.7 41.3L399.9 38.5Z" fill="none" stroke="#1F6FE8" stroke-width="1.25"/>
<path d="M405.3 38.3L408.1 41.1L405.3 43.9L402.5 41.1Z" fill="none" stroke="#1F6FE8" stroke-width="1.25"/>
<path d="M414.5 24.8V40.2M412.6 24.8H416.4M412.6 40.2H416.4" stroke="#1F6FE8" stroke-width="1.05" fill="none"/>
<path d="M414.7 29.7L417.5 32.5L414.7 35.3L411.9 32.5Z" fill="none" stroke="#1F6FE8" stroke-width="1.25"/>
<path d="M420.7 28L423.5 30.8L420.7 33.6L417.9 30.8Z" fill="none" stroke="#1F6FE8" stroke-width="1.25"/>
<path d="M425.8 22.9L428.6 25.7L425.8 28.5L423 25.7Z" fill="none" stroke="#1F6FE8" stroke-width="1.25"/>
<path d="M431.5 6.8V31.7M429.6 6.8H433.4M429.6 31.7H433.4" stroke="#1F6FE8" stroke-width="1.05" fill="none"/>
<path d="M431 14.3L433.8 17.1L431 19.9L428.2 17.1Z" fill="none" stroke="#1F6FE8" stroke-width="1.25"/>
<path d="M431 19.5L433.8 22.3L431 25.1L428.2 22.3Z" fill="none" stroke="#1F6FE8" stroke-width="1.25"/>
<path d="M426.7 25.5L429.5 28.3L426.7 31.1L423.9 28.3Z" fill="none" stroke="#1F6FE8" stroke-width="1.25"/>
<path d="M407.5 31V40M405.6 31H409.4M405.6 40H409.4" stroke="#3CAB5E" stroke-width="1.05" fill="none"/>
<rect x="405.2" y="32.5" width="5.2" height="5.2" fill="none" stroke="#3CAB5E" stroke-width="1.25"/>
<path d="M411.5 31.7V51.4M409.6 31.7H413.4M409.6 51.4H413.4" stroke="#E0B41C" stroke-width="1.05" fill="none"/>
<path d="M411.3 39.7L414.4 45.12L408.2 45.12Z" fill="none" stroke="#E0B41C" stroke-width="1.25"/>
<path d="M411.3 43.1L414.4 48.53L408.2 48.53Z" fill="none" stroke="#E0B41C" stroke-width="1.25"/>
<path d="M419.5 18.8V40.2M417.6 18.8H421.4M417.6 40.2H421.4" stroke="#E0B41C" stroke-width="1.05" fill="none"/>
<path d="M419.8 26.9L422.9 32.33L416.7 32.33Z" fill="none" stroke="#E0B41C" stroke-width="1.25"/>
<path d="M426.5 26.5V42M424.6 26.5H428.4M424.6 42H428.4" stroke="#E0B41C" stroke-width="1.05" fill="none"/>
<path d="M426.7 28.6L429.8 34.02L423.6 34.02Z" fill="none" stroke="#E0B41C" stroke-width="1.25"/>
<path d="M436.1 31.1L439.2 36.53L433 36.53Z" fill="none" stroke="#E0B41C" stroke-width="1.25"/>
<path d="M444.5 17.2V37.7M442.6 17.2H446.4M442.6 37.7H446.4" stroke="#E0B41C" stroke-width="1.05" fill="none"/>
<path d="M444.3 24.3L447.4 29.72L441.2 29.72Z" fill="none" stroke="#E0B41C" stroke-width="1.25"/>
<path d="M451.5 0.9V36M449.6 0.9H453.4M449.6 36H453.4" stroke="#E0B41C" stroke-width="1.05" fill="none"/>
<path d="M451.7 6.3L454.8 11.73L448.6 11.73Z" fill="none" stroke="#E0B41C" stroke-width="1.25"/>
<path d="M451.7 21.8L454.8 27.22L448.6 27.22Z" fill="none" stroke="#E0B41C" stroke-width="1.25"/>
<path d="M459.5 0.9V23.2M457.6 0.9H461.4M457.6 23.2H461.4" stroke="#E0B41C" stroke-width="1.05" fill="none"/>
<path d="M459.7 8L462.8 13.43L456.6 13.43Z" fill="none" stroke="#E0B41C" stroke-width="1.25"/>
<path d="M404.4 52.8L407.5 47.38L401.3 47.38Z" fill="none" stroke="#A66FEA" stroke-width="1.25"/>
<path d="M417.3 42.5L420.4 37.07L414.2 37.07Z" fill="none" stroke="#A66FEA" stroke-width="1.25"/>
<path d="M431.8 39.9L434.9 34.47L428.7 34.47Z" fill="none" stroke="#A66FEA" stroke-width="1.25"/>
<path d="M433.5 42.5L436.6 37.07L430.4 37.07Z" fill="none" stroke="#A66FEA" stroke-width="1.25"/>
<path d="M446.5 26.6V46.3M444.6 26.6H448.4M444.6 46.3H448.4" stroke="#A66FEA" stroke-width="1.05" fill="none"/>
<path d="M446.9 35.7L450 30.28L443.8 30.28Z" fill="none" stroke="#A66FEA" stroke-width="1.25"/>
<path d="M446.9 42.6L450 37.17L443.8 37.17Z" fill="none" stroke="#A66FEA" stroke-width="1.25"/>
<path d="M460.5 28.3V47.2M458.6 28.3H462.4M458.6 47.2H462.4" stroke="#A66FEA" stroke-width="1.05" fill="none"/>
<path d="M460.6 37.4L463.7 31.97L457.5 31.97Z" fill="none" stroke="#A66FEA" stroke-width="1.25"/>
<path d="M460.6 42.6L463.7 37.17L457.5 37.17Z" fill="none" stroke="#A66FEA" stroke-width="1.25"/>
<path d="M475.5 17.2V47.2M473.6 17.2H477.4M473.6 47.2H477.4" stroke="#A66FEA" stroke-width="1.05" fill="none"/>
<path d="M475.2 30.5L478.3 25.07L472.1 25.07Z" fill="none" stroke="#A66FEA" stroke-width="1.25"/>
<path d="M475.2 41.7L478.3 36.27L472.1 36.27Z" fill="none" stroke="#A66FEA" stroke-width="1.25"/>
<path d="M488.5 16.3V42.9M486.6 16.3H490.4M486.6 42.9H490.4" stroke="#A66FEA" stroke-width="1.05" fill="none"/>
<path d="M488.9 32.3L492 26.88L485.8 26.88Z" fill="none" stroke="#A66FEA" stroke-width="1.25"/>
<path d="M502.5 11.1V36M500.6 11.1H504.4M500.6 36H504.4" stroke="#A66FEA" stroke-width="1.05" fill="none"/>
<path d="M502.6 25.4L505.7 19.98L499.5 19.98Z" fill="none" stroke="#A66FEA" stroke-width="1.25"/>
<path d="M502.6 28L505.7 22.57L499.5 22.57Z" fill="none" stroke="#A66FEA" stroke-width="1.25"/>
<path d="M401 0.5V142" stroke="#0A8A8A" stroke-width="2"/>
<path d="M364.8 142v-1.6M364.8 0.5v1.6M400.23 142v-1.6M400.23 0.5v1.6M435.65 142v-1.6M435.65 0.5v1.6M471.07 142v-1.6M471.07 0.5v1.6M506.5 142v-1.6M506.5 0.5v1.6M364.5 142h1.6M506.5 142h-1.6M364.5 116.27h1.6M506.5 116.27h-1.6M364.5 90.55h1.6M506.5 90.55h-1.6M364.5 64.82h1.6M506.5 64.82h-1.6M364.5 39.09h1.6M506.5 39.09h-1.6M364.5 13.36h1.6M506.5 13.36h-1.6" stroke="#666" stroke-width="0.9" fill="none"/>
<rect x="364.5" y="0.5" width="142" height="141.5" fill="none" stroke="#666" stroke-width="1"/>
<text x="364.8" y="155.2" font-size="12.5" text-anchor="middle" class="t">0</text>
<text x="400.23" y="155.2" font-size="12.5" text-anchor="middle" class="t">3</text>
<text x="435.65" y="155.2" font-size="12.5" text-anchor="middle" class="t">6</text>
<text x="471.07" y="155.2" font-size="12.5" text-anchor="middle" class="t">9</text>
<text x="506.5" y="155.2" font-size="12.5" text-anchor="middle" class="t">12</text>
<text x="363.3" y="146.8" font-size="12.5" text-anchor="end" class="t">0</text>
<text x="363.3" y="121.07" font-size="12.5" text-anchor="end" class="t">1</text>
<text x="363.3" y="95.35" font-size="12.5" text-anchor="end" class="t">2</text>
<text x="363.3" y="69.62" font-size="12.5" text-anchor="end" class="t">3</text>
<text x="363.3" y="43.89" font-size="12.5" text-anchor="end" class="t">4</text>
<text x="363.3" y="18.16" font-size="12.5" text-anchor="end" class="t">5</text>
<circle cx="447.8" cy="69.6" r="2.85" fill="none" stroke="#EC3F3F" stroke-width="1.1"/>
<text x="455.79" y="74.4" font-size="12.5" text-anchor="start" textLength="44.65" lengthAdjust="spacingAndGlyphs">ω'=0.50</text>
<rect x="445.2" y="82.5" width="5.2" height="5.2" fill="none" stroke="#3CAB5E" stroke-width="1.1"/>
<text x="455.79" y="89.9" font-size="12.5" text-anchor="start" textLength="44.65" lengthAdjust="spacingAndGlyphs">ω'=0.67</text>
<path d="M447.8 97.5L450.9 100.6L447.8 103.7L444.7 100.6Z" fill="none" stroke="#1F6FE8" stroke-width="1.1"/>
<text x="455.79" y="105.4" font-size="12.5" text-anchor="start" textLength="44.65" lengthAdjust="spacingAndGlyphs">ω'=0.84</text>
<path d="M447.8 112.85L451.05 118.54L444.55 118.54Z" fill="none" stroke="#E0B41C" stroke-width="1.1"/>
<text x="455.79" y="120.9" font-size="12.5" text-anchor="start" textLength="44.65" lengthAdjust="spacingAndGlyphs">ω'=1.00</text>
<path d="M447.8 134.85L451.05 129.16L444.55 129.16Z" fill="none" stroke="#A66FEA" stroke-width="1.1"/>
<text x="455.79" y="136.4" font-size="12.5" text-anchor="start" textLength="44.65" lengthAdjust="spacingAndGlyphs">ω'=1.34</text>
<text x="369.15" y="89.7" font-size="10.9" text-anchor="start" textLength="29.46" lengthAdjust="spacingAndGlyphs">RBNE</text>
<text x="410.23" y="60.9" font-size="10.9" text-anchor="start" textLength="22.47" lengthAdjust="spacingAndGlyphs">BNE</text>
<text x="369.98" y="14.77" font-size="13.01" text-anchor="start" textLength="14.01" lengthAdjust="spacingAndGlyphs">(c)</text>
<g transform="translate(0,0)"><path d="M341.9 82.5L346.4 74.1L350.9 82.5M341.9 94.4L346.4 103.2L350.9 94.4" fill="none" stroke="#111" stroke-width="1.05"/><text transform="translate(351.1,91.85) rotate(-90)" font-size="12.6" textLength="7.11" lengthAdjust="spacingAndGlyphs">Z</text><text transform="translate(351.0,68.51) rotate(-90)" font-size="12.2" textLength="23.82" lengthAdjust="spacingAndGlyphs">(cm)</text></g>
<text x="434.32" y="171.3" font-size="13.3" text-anchor="start" textLength="6.76" lengthAdjust="spacingAndGlyphs">Γ</text>
<circle cx="546.58" cy="125.93" r="2.7" fill="none" stroke="#EC3F3F" stroke-width="1.25"/>
<circle cx="548.45" cy="125.6" r="2.7" fill="none" stroke="#EC3F3F" stroke-width="1.25"/>
<circle cx="551.67" cy="132.2" r="2.7" fill="none" stroke="#EC3F3F" stroke-width="1.25"/>
<path d="M552.5 127.31V131.22M550.6 127.31H554.4M550.6 131.22H554.4" stroke="#EC3F3F" stroke-width="1.05" fill="none"/>
<circle cx="552.56" cy="129.83" r="2.7" fill="none" stroke="#EC3F3F" stroke-width="1.25"/>
<circle cx="554.54" cy="133.35" r="2.7" fill="none" stroke="#EC3F3F" stroke-width="1.25"/>
<path d="M557.5 129.27V134.59M555.6 129.27H559.4M555.6 134.59H559.4" stroke="#EC3F3F" stroke-width="1.05" fill="none"/>
<circle cx="557.49" cy="132.2" r="2.7" fill="none" stroke="#EC3F3F" stroke-width="1.25"/>
<circle cx="559.37" cy="132.69" r="2.7" fill="none" stroke="#EC3F3F" stroke-width="1.25"/>
<circle cx="560.34" cy="130.45" r="2.7" fill="none" stroke="#EC3F3F" stroke-width="1.25"/>
<rect x="544.06" y="124.64" width="5.2" height="5.2" fill="none" stroke="#3CAB5E" stroke-width="1.25"/>
<rect x="546.25" y="129.94" width="5.2" height="5.2" fill="none" stroke="#3CAB5E" stroke-width="1.25"/>
<rect x="550.74" y="125.5" width="5.2" height="5.2" fill="none" stroke="#3CAB5E" stroke-width="1.25"/>
<rect x="554.09" y="129.58" width="5.2" height="5.2" fill="none" stroke="#3CAB5E" stroke-width="1.25"/>
<rect x="557.21" y="126.3" width="5.2" height="5.2" fill="none" stroke="#3CAB5E" stroke-width="1.25"/>
<path d="M562.5 122.69V129.44M560.6 122.69H564.4M560.6 129.44H564.4" stroke="#3CAB5E" stroke-width="1.05" fill="none"/>
<rect x="560.29" y="124.53" width="5.2" height="5.2" fill="none" stroke="#3CAB5E" stroke-width="1.25"/>
<path d="M565.5 126.78V133.04M563.6 126.78H567.4M563.6 133.04H567.4" stroke="#3CAB5E" stroke-width="1.05" fill="none"/>
<rect x="562.56" y="127.78" width="5.2" height="5.2" fill="none" stroke="#3CAB5E" stroke-width="1.25"/>
<path d="M544.5 130.74V135.93M542.6 130.74H546.4M542.6 135.93H546.4" stroke="#1F6FE8" stroke-width="1.05" fill="none"/>
<path d="M544.23 131.18L547.03 133.98L544.23 136.78L541.43 133.98Z" fill="none" stroke="#1F6FE8" stroke-width="1.25"/>
<path d="M548.28 126.13L551.08 128.93L548.28 131.73L545.48 128.93Z" fill="none" stroke="#1F6FE8" stroke-width="1.25"/>
<path d="M551.86 126.44L554.66 129.24L551.86 132.04L549.06 129.24Z" fill="none" stroke="#1F6FE8" stroke-width="1.25"/>
<path d="M555.5 125.02V130.08M553.6 125.02H557.4M553.6 130.08H557.4" stroke="#1F6FE8" stroke-width="1.05" fill="none"/>
<path d="M555.56 124.91L558.36 127.71L555.56 130.51L552.76 127.71Z" fill="none" stroke="#1F6FE8" stroke-width="1.25"/>
<path d="M558.09 125.86L560.89 128.66L558.09 131.46L555.29 128.66Z" fill="none" stroke="#1F6FE8" stroke-width="1.25"/>
<path d="M560.5 126.12V134.09M558.6 126.12H562.4M558.6 134.09H562.4" stroke="#1F6FE8" stroke-width="1.05" fill="none"/>
<path d="M560.22 127.41L563.02 130.21L560.22 133.01L557.42 130.21Z" fill="none" stroke="#1F6FE8" stroke-width="1.25"/>
<path d="M565.55 129.34L568.35 132.14L565.55 134.94L562.75 132.14Z" fill="none" stroke="#1F6FE8" stroke-width="1.25"/>
<path d="M548.38 127.63L551.48 133.06L545.28 133.06Z" fill="none" stroke="#E0B41C" stroke-width="1.25"/>
<path d="M553.73 128.36L556.83 133.79L550.63 133.79Z" fill="none" stroke="#E0B41C" stroke-width="1.25"/>
<path d="M556.5 131.33V135.77M554.6 131.33H558.4M554.6 135.77H558.4" stroke="#E0B41C" stroke-width="1.05" fill="none"/>
<path d="M556.65 130.81L559.75 136.23L553.55 136.23Z" fill="none" stroke="#E0B41C" stroke-width="1.25"/>
<path d="M558.7 128.19L561.8 133.61L555.6 133.61Z" fill="none" stroke="#E0B41C" stroke-width="1.25"/>
<path d="M562.5 126.55V131.29M560.6 126.55H564.4M560.6 131.29H564.4" stroke="#E0B41C" stroke-width="1.05" fill="none"/>
<path d="M562.55 125.96L565.65 131.38L559.45 131.38Z" fill="none" stroke="#E0B41C" stroke-width="1.25"/>
<path d="M565.5 125.8V134.26M563.6 125.8H567.4M563.6 134.26H567.4" stroke="#E0B41C" stroke-width="1.05" fill="none"/>
<path d="M565.97 127.64L569.07 133.07L562.87 133.07Z" fill="none" stroke="#E0B41C" stroke-width="1.25"/>
<path d="M545.5 127.73V132.34M543.6 127.73H547.4M543.6 132.34H547.4" stroke="#A66FEA" stroke-width="1.05" fill="none"/>
<path d="M545.04 133.34L548.14 127.91L541.94 127.91Z" fill="none" stroke="#A66FEA" stroke-width="1.25"/>
<path d="M552.35 133.26L555.45 127.84L549.25 127.84Z" fill="none" stroke="#A66FEA" stroke-width="1.25"/>
<path d="M560.5 130.4V137.17M558.6 130.4H562.4M558.6 137.17H562.4" stroke="#A66FEA" stroke-width="1.05" fill="none"/>
<path d="M560.63 137.09L563.73 131.67L557.53 131.67Z" fill="none" stroke="#A66FEA" stroke-width="1.25"/>
<path d="M553.5 117V125M551.6 117H555.4M551.6 125H555.4" stroke="#EC3F3F" stroke-width="1.05" fill="none"/>
<circle cx="553.6" cy="121.4" r="2.7" fill="none" stroke="#EC3F3F" stroke-width="1.25"/>
<circle cx="554.3" cy="125" r="2.7" fill="none" stroke="#EC3F3F" stroke-width="1.25"/>
<circle cx="554.3" cy="128" r="2.7" fill="none" stroke="#EC3F3F" stroke-width="1.25"/>
<path d="M548.5 113V120M546.6 113H550.4M546.6 120H550.4" stroke="#3CAB5E" stroke-width="1.05" fill="none"/>
<rect x="546" y="113.8" width="5.2" height="5.2" fill="none" stroke="#3CAB5E" stroke-width="1.25"/>
<path d="M563.5 113V125M561.6 113H565.4M561.6 125H565.4" stroke="#3CAB5E" stroke-width="1.05" fill="none"/>
<rect x="560.7" y="116.7" width="5.2" height="5.2" fill="none" stroke="#3CAB5E" stroke-width="1.25"/>
<path d="M547.9 119L551 124.42L544.8 124.42Z" fill="none" stroke="#E0B41C" stroke-width="1.25"/>
<path d="M545 134.5L548.1 129.08L541.9 129.08Z" fill="none" stroke="#A66FEA" stroke-width="1.25"/>
<path d="M572.5 104.3V125.7M570.6 104.3H574.4M570.6 125.7H574.4" stroke="#E0B41C" stroke-width="1.05" fill="none"/>
<path d="M572.9 112.6L576 118.03L569.8 118.03Z" fill="none" stroke="#E0B41C" stroke-width="1.25"/>
<path d="M565.7 106.2L568.8 111.62L562.6 111.62Z" fill="none" stroke="#E0B41C" stroke-width="1.25"/>
<path d="M567.6 116.7L570.7 111.27L564.5 111.27Z" fill="none" stroke="#A66FEA" stroke-width="1.25"/>
<path d="M567.9 128.8L571 123.38L564.8 123.38Z" fill="none" stroke="#A66FEA" stroke-width="1.25"/>
<path d="M567.2 0.5V142" stroke="#0A8A8A" stroke-width="2"/>
<path d="M566.5 50V64.6M564.6 50H568.4M564.6 64.6H568.4" stroke="#3CAB5E" stroke-width="1.05" fill="none"/>
<rect x="562.4" y="51.7" width="5.2" height="5.2" fill="none" stroke="#3CAB5E" stroke-width="1.25"/>
<path d="M570.5 36.6V59.4M568.6 36.6H572.4M568.6 59.4H572.4" stroke="#1F6FE8" stroke-width="1.05" fill="none"/>
<path d="M570.3 45.2L573.1 48L570.3 50.8L567.5 48Z" fill="none" stroke="#1F6FE8" stroke-width="1.25"/>
<path d="M570.3 39.2L573.1 42L570.3 44.8L567.5 42Z" fill="none" stroke="#1F6FE8" stroke-width="1.25"/>
<path d="M574.5 36.6V55M572.6 36.6H576.4M572.6 55H576.4" stroke="#1F6FE8" stroke-width="1.05" fill="none"/>
<path d="M574.9 41.2L577.7 44L574.9 46.8L572.1 44Z" fill="none" stroke="#1F6FE8" stroke-width="1.25"/>
<path d="M581.5 26.3V40.6M579.6 26.3H583.4M579.6 40.6H583.4" stroke="#1F6FE8" stroke-width="1.05" fill="none"/>
<path d="M581.1 30.2L583.9 33L581.1 35.8L578.3 33Z" fill="none" stroke="#1F6FE8" stroke-width="1.25"/>
<path d="M584.5 30.9V39.4M582.6 30.9H586.4M582.6 39.4H586.4" stroke="#1F6FE8" stroke-width="1.05" fill="none"/>
<path d="M584 32.2L586.8 35L584 37.8L581.2 35Z" fill="none" stroke="#1F6FE8" stroke-width="1.25"/>
<path d="M589.5 23.4V38.3M587.6 23.4H591.4M587.6 38.3H591.4" stroke="#1F6FE8" stroke-width="1.05" fill="none"/>
<path d="M589.1 27.2L591.9 30L589.1 32.8L586.3 30Z" fill="none" stroke="#1F6FE8" stroke-width="1.25"/>
<path d="M573.5 38.3V57.7M571.6 38.3H575.4M571.6 57.7H575.4" stroke="#E0B41C" stroke-width="1.05" fill="none"/>
<path d="M573.1 44.9L576.2 50.33L570 50.33Z" fill="none" stroke="#E0B41C" stroke-width="1.25"/>
<path d="M573.1 48.9L576.2 54.33L570 54.33Z" fill="none" stroke="#E0B41C" stroke-width="1.25"/>
<path d="M578.5 34.9V54.3M576.6 34.9H580.4M576.6 54.3H580.4" stroke="#E0B41C" stroke-width="1.05" fill="none"/>
<path d="M578.9 40.9L582 46.33L575.8 46.33Z" fill="none" stroke="#E0B41C" stroke-width="1.25"/>
<path d="M586.5 30.3V42.9M584.6 30.3H588.4M584.6 42.9H588.4" stroke="#E0B41C" stroke-width="1.05" fill="none"/>
<path d="M586.3 32.9L589.4 38.33L583.2 38.33Z" fill="none" stroke="#E0B41C" stroke-width="1.25"/>
<path d="M593.5 23.4V41.1M591.6 23.4H595.4M591.6 41.1H595.4" stroke="#E0B41C" stroke-width="1.05" fill="none"/>
<path d="M593.1 28.9L596.2 34.33L590 34.33Z" fill="none" stroke="#E0B41C" stroke-width="1.25"/>
<path d="M590.9 27.8L594 33.23L587.8 33.23Z" fill="none" stroke="#E0B41C" stroke-width="1.25"/>
<path d="M599.5 18V36M597.6 18H601.4M597.6 36H601.4" stroke="#E0B41C" stroke-width="1.05" fill="none"/>
<path d="M599.4 25.2L602.5 30.62L596.3 30.62Z" fill="none" stroke="#E0B41C" stroke-width="1.25"/>
<path d="M599.4 29.4L602.5 34.83L596.3 34.83Z" fill="none" stroke="#E0B41C" stroke-width="1.25"/>
<path d="M605.5 7.7V36M603.6 7.7H607.4M603.6 36H607.4" stroke="#E0B41C" stroke-width="1.05" fill="none"/>
<path d="M605.4 20L608.5 25.43L602.3 25.43Z" fill="none" stroke="#E0B41C" stroke-width="1.25"/>
<path d="M612.5 9.4V33.4M610.6 9.4H614.4M610.6 33.4H614.4" stroke="#E0B41C" stroke-width="1.05" fill="none"/>
<path d="M612.2 20.9L615.3 26.32L609.1 26.32Z" fill="none" stroke="#E0B41C" stroke-width="1.25"/>
<path d="M578.3 54L581.4 48.57L575.2 48.57Z" fill="none" stroke="#A66FEA" stroke-width="1.25"/>
<path d="M589.1 38L592.2 32.57L586 32.57Z" fill="none" stroke="#A66FEA" stroke-width="1.25"/>
<path d="M601.5 29V39.4M599.6 29H603.4M599.6 39.4H603.4" stroke="#A66FEA" stroke-width="1.05" fill="none"/>
<path d="M601.7 35.7L604.8 30.28L598.6 30.28Z" fill="none" stroke="#A66FEA" stroke-width="1.25"/>
<path d="M612.5 25.7V41.1M610.6 25.7H614.4M610.6 41.1H614.4" stroke="#A66FEA" stroke-width="1.05" fill="none"/>
<path d="M612.6 34.5L615.7 29.07L609.5 29.07Z" fill="none" stroke="#A66FEA" stroke-width="1.25"/>
<path d="M612.2 37.3L615.3 31.88L609.1 31.88Z" fill="none" stroke="#A66FEA" stroke-width="1.25"/>
<path d="M623.5 21.4V39.5M621.6 21.4H625.4M621.6 39.5H625.4" stroke="#A66FEA" stroke-width="1.05" fill="none"/>
<path d="M623.6 33.1L626.7 27.68L620.5 27.68Z" fill="none" stroke="#A66FEA" stroke-width="1.25"/>
<path d="M635.5 20.2V36M633.6 20.2H637.4M633.6 36H637.4" stroke="#A66FEA" stroke-width="1.05" fill="none"/>
<path d="M635 30.1L638.1 24.68L631.9 24.68Z" fill="none" stroke="#A66FEA" stroke-width="1.25"/>
<path d="M646.5 10.3V31.7M644.6 10.3H648.4M644.6 31.7H648.4" stroke="#A66FEA" stroke-width="1.05" fill="none"/>
<path d="M646 23.7L649.1 18.28L642.9 18.28Z" fill="none" stroke="#A66FEA" stroke-width="1.25"/>
<path d="M646 26.3L649.1 20.88L642.9 20.88Z" fill="none" stroke="#A66FEA" stroke-width="1.25"/>
<path d="M657.5 2.6V30M655.6 2.6H659.4M655.6 30H659.4" stroke="#A66FEA" stroke-width="1.05" fill="none"/>
<path d="M657.7 17.7L660.8 12.27L654.6 12.27Z" fill="none" stroke="#A66FEA" stroke-width="1.25"/>
<path d="M657.7 22.8L660.8 17.38L654.6 17.38Z" fill="none" stroke="#A66FEA" stroke-width="1.25"/>
<path d="M668.5 6V37.7M666.6 6H670.4M666.6 37.7H670.4" stroke="#A66FEA" stroke-width="1.05" fill="none"/>
<path d="M668.7 20.3L671.8 14.88L665.6 14.88Z" fill="none" stroke="#A66FEA" stroke-width="1.25"/>
<path d="M668.7 22.8L671.8 17.38L665.6 17.38Z" fill="none" stroke="#A66FEA" stroke-width="1.25"/>
<path d="M535.8 142v-1.6M535.8 0.5v1.6M571.22 142v-1.6M571.22 0.5v1.6M606.65 142v-1.6M606.65 0.5v1.6M642.08 142v-1.6M642.08 0.5v1.6M677.5 142v-1.6M677.5 0.5v1.6M535.5 142h1.6M677.5 142h-1.6M535.5 116.27h1.6M677.5 116.27h-1.6M535.5 90.55h1.6M677.5 90.55h-1.6M535.5 64.82h1.6M677.5 64.82h-1.6M535.5 39.09h1.6M677.5 39.09h-1.6M535.5 13.36h1.6M677.5 13.36h-1.6" stroke="#666" stroke-width="0.9" fill="none"/>
<rect x="535.5" y="0.5" width="142" height="141.5" fill="none" stroke="#666" stroke-width="1"/>
<text x="535.8" y="155.2" font-size="12.5" text-anchor="middle" class="t">0</text>
<text x="571.22" y="155.2" font-size="12.5" text-anchor="middle" class="t">3</text>
<text x="606.65" y="155.2" font-size="12.5" text-anchor="middle" class="t">6</text>
<text x="642.08" y="155.2" font-size="12.5" text-anchor="middle" class="t">9</text>
<text x="677.5" y="155.2" font-size="12.5" text-anchor="middle" class="t">12</text>
<text x="534.3" y="146.8" font-size="12.5" text-anchor="end" class="t">0</text>
<text x="534.3" y="121.07" font-size="12.5" text-anchor="end" class="t">1</text>
<text x="534.3" y="95.35" font-size="12.5" text-anchor="end" class="t">2</text>
<text x="534.3" y="69.62" font-size="12.5" text-anchor="end" class="t">3</text>
<text x="534.3" y="43.89" font-size="12.5" text-anchor="end" class="t">4</text>
<text x="534.3" y="18.16" font-size="12.5" text-anchor="end" class="t">5</text>
<circle cx="618.7" cy="69.6" r="2.85" fill="none" stroke="#EC3F3F" stroke-width="1.1"/>
<text x="626.89" y="74.4" font-size="12.5" text-anchor="start" textLength="44.65" lengthAdjust="spacingAndGlyphs">ω'=0.45</text>
<rect x="616.1" y="82.5" width="5.2" height="5.2" fill="none" stroke="#3CAB5E" stroke-width="1.1"/>
<text x="626.89" y="89.9" font-size="12.5" text-anchor="start" textLength="44.65" lengthAdjust="spacingAndGlyphs">ω'=0.60</text>
<path d="M618.7 97.5L621.8 100.6L618.7 103.7L615.6 100.6Z" fill="none" stroke="#1F6FE8" stroke-width="1.1"/>
<text x="626.89" y="105.4" font-size="12.5" text-anchor="start" textLength="44.65" lengthAdjust="spacingAndGlyphs">ω'=0.75</text>
<path d="M618.7 112.85L621.95 118.54L615.45 118.54Z" fill="none" stroke="#E0B41C" stroke-width="1.1"/>
<text x="626.89" y="120.9" font-size="12.5" text-anchor="start" textLength="44.65" lengthAdjust="spacingAndGlyphs">ω'=0.90</text>
<path d="M618.7 134.85L621.95 129.16L615.45 129.16Z" fill="none" stroke="#A66FEA" stroke-width="1.1"/>
<text x="626.89" y="136.4" font-size="12.5" text-anchor="start" textLength="44.65" lengthAdjust="spacingAndGlyphs">ω'=1.20</text>
<text x="534.95" y="79.4" font-size="10.9" text-anchor="start" textLength="29.46" lengthAdjust="spacingAndGlyphs">RBNE</text>
<text x="575.23" y="68.5" font-size="10.9" text-anchor="start" textLength="22.47" lengthAdjust="spacingAndGlyphs">BNE</text>
<text x="540.62" y="14.68" font-size="13.44" text-anchor="start" textLength="15.89" lengthAdjust="spacingAndGlyphs">(d)</text>
<g transform="translate(171,0)"><path d="M341.9 82.5L346.4 74.1L350.9 82.5M341.9 94.4L346.4 103.2L350.9 94.4" fill="none" stroke="#111" stroke-width="1.05"/><text transform="translate(351.1,91.85) rotate(-90)" font-size="12.6" textLength="7.11" lengthAdjust="spacingAndGlyphs">Z</text><text transform="translate(351.0,68.51) rotate(-90)" font-size="12.2" textLength="23.82" lengthAdjust="spacingAndGlyphs">(cm)</text></g>
<text x="605.32" y="171.3" font-size="13.3" text-anchor="start" textLength="6.76" lengthAdjust="spacingAndGlyphs">Γ</text>
<circle cx="33.54" cy="306.42" r="2.7" fill="none" stroke="#EC3F3F" stroke-width="1.25"/>
<circle cx="36.77" cy="306.4" r="2.7" fill="none" stroke="#EC3F3F" stroke-width="1.25"/>
<circle cx="37.46" cy="303.66" r="2.7" fill="none" stroke="#EC3F3F" stroke-width="1.25"/>
<path d="M41.5 304.6V310.13M39.6 304.6H43.4M39.6 310.13H43.4" stroke="#EC3F3F" stroke-width="1.05" fill="none"/>
<circle cx="41.31" cy="308.01" r="2.7" fill="none" stroke="#EC3F3F" stroke-width="1.25"/>
<path d="M43.5 302.09V306.43M41.6 302.09H45.4M41.6 306.43H45.4" stroke="#EC3F3F" stroke-width="1.05" fill="none"/>
<circle cx="43.66" cy="304.74" r="2.7" fill="none" stroke="#EC3F3F" stroke-width="1.25"/>
<path d="M46.5 302.27V309.16M44.6 302.27H48.4M44.6 309.16H48.4" stroke="#EC3F3F" stroke-width="1.05" fill="none"/>
<circle cx="47" cy="306.66" r="2.7" fill="none" stroke="#EC3F3F" stroke-width="1.25"/>
<path d="M48.5 295.65V303.06M46.6 295.65H50.4M46.6 303.06H50.4" stroke="#EC3F3F" stroke-width="1.05" fill="none"/>
<circle cx="48.96" cy="300.27" r="2.7" fill="none" stroke="#EC3F3F" stroke-width="1.25"/>
<rect x="30.01" y="305.22" width="5.2" height="5.2" fill="none" stroke="#3CAB5E" stroke-width="1.25"/>
<rect x="32.36" y="305.01" width="5.2" height="5.2" fill="none" stroke="#3CAB5E" stroke-width="1.25"/>
<rect x="35.27" y="297.45" width="5.2" height="5.2" fill="none" stroke="#3CAB5E" stroke-width="1.25"/>
<rect x="37.52" y="305.07" width="5.2" height="5.2" fill="none" stroke="#3CAB5E" stroke-width="1.25"/>
<path d="M41.5 299.17V302.91M39.6 299.17H43.4M39.6 302.91H43.4" stroke="#3CAB5E" stroke-width="1.05" fill="none"/>
<rect x="39.04" y="299.01" width="5.2" height="5.2" fill="none" stroke="#3CAB5E" stroke-width="1.25"/>
<path d="M43.5 300V306.73M41.6 300H45.4M41.6 306.73H45.4" stroke="#3CAB5E" stroke-width="1.05" fill="none"/>
<rect x="41.27" y="301.43" width="5.2" height="5.2" fill="none" stroke="#3CAB5E" stroke-width="1.25"/>
<rect x="43.51" y="303.59" width="5.2" height="5.2" fill="none" stroke="#3CAB5E" stroke-width="1.25"/>
<rect x="45.74" y="300.21" width="5.2" height="5.2" fill="none" stroke="#3CAB5E" stroke-width="1.25"/>
<path d="M50.5 303.5V311.67M48.6 303.5H52.4M48.6 311.67H52.4" stroke="#3CAB5E" stroke-width="1.05" fill="none"/>
<rect x="47.5" y="305.15" width="5.2" height="5.2" fill="none" stroke="#3CAB5E" stroke-width="1.25"/>
<path d="M33.31 304.29L36.11 307.09L33.31 309.89L30.51 307.09Z" fill="none" stroke="#1F6FE8" stroke-width="1.25"/>
<path d="M37.5 297.54V302.57M35.6 297.54H39.4M35.6 302.57H39.4" stroke="#1F6FE8" stroke-width="1.05" fill="none"/>
<path d="M37.24 297.28L40.04 300.08L37.24 302.88L34.44 300.08Z" fill="none" stroke="#1F6FE8" stroke-width="1.25"/>
<path d="M39.13 304L41.93 306.8L39.13 309.6L36.33 306.8Z" fill="none" stroke="#1F6FE8" stroke-width="1.25"/>
<path d="M43.46 300.3L46.26 303.1L43.46 305.9L40.66 303.1Z" fill="none" stroke="#1F6FE8" stroke-width="1.25"/>
<path d="M45.5 302.74V310.8M43.6 302.74H47.4M43.6 310.8H47.4" stroke="#1F6FE8" stroke-width="1.05" fill="none"/>
<path d="M45.27 304.18L48.07 306.98L45.27 309.78L42.47 306.98Z" fill="none" stroke="#1F6FE8" stroke-width="1.25"/>
<path d="M48.71 297.53L51.51 300.33L48.71 303.13L45.91 300.33Z" fill="none" stroke="#1F6FE8" stroke-width="1.25"/>
<path d="M49.76 300.27L52.56 303.07L49.76 305.87L46.96 303.07Z" fill="none" stroke="#1F6FE8" stroke-width="1.25"/>
<path d="M37 301.28L40.1 306.7L33.9 306.7Z" fill="none" stroke="#E0B41C" stroke-width="1.25"/>
<path d="M39.53 301.09L42.63 306.51L36.43 306.51Z" fill="none" stroke="#E0B41C" stroke-width="1.25"/>
<path d="M42.5 298.48V306.61M40.6 298.48H44.4M40.6 306.61H44.4" stroke="#E0B41C" stroke-width="1.05" fill="none"/>
<path d="M42.07 299.45L45.17 304.87L38.97 304.87Z" fill="none" stroke="#E0B41C" stroke-width="1.25"/>
<path d="M45.63 299.24L48.73 304.66L42.53 304.66Z" fill="none" stroke="#E0B41C" stroke-width="1.25"/>
<path d="M50.5 301.06V308.29M48.6 301.06H52.4M48.6 308.29H52.4" stroke="#E0B41C" stroke-width="1.05" fill="none"/>
<path d="M50.3 301.74L53.4 307.17L47.2 307.17Z" fill="none" stroke="#E0B41C" stroke-width="1.25"/>
<path d="M38.5 300.78V307.98M36.6 300.78H40.4M36.6 307.98H40.4" stroke="#A66FEA" stroke-width="1.05" fill="none"/>
<path d="M38.17 308.63L41.27 303.21L35.07 303.21Z" fill="none" stroke="#A66FEA" stroke-width="1.25"/>
<path d="M42.5 303.84V312.12M40.6 303.84H44.4M40.6 312.12H44.4" stroke="#A66FEA" stroke-width="1.05" fill="none"/>
<path d="M42.98 311.13L46.08 305.71L39.88 305.71Z" fill="none" stroke="#A66FEA" stroke-width="1.25"/>
<path d="M48.5 304.42V309.63M46.6 304.42H50.4M46.6 309.63H50.4" stroke="#A66FEA" stroke-width="1.05" fill="none"/>
<path d="M48.15 310.83L51.25 305.4L45.05 305.4Z" fill="none" stroke="#A66FEA" stroke-width="1.25"/>
<path d="M40.78 304.47L46.2 301.37L46.2 307.57Z" fill="none" stroke="#3C3C3C" stroke-width="1.25"/>
<path d="M46.4 307.26L51.82 304.16L51.82 310.36Z" fill="none" stroke="#3C3C3C" stroke-width="1.25"/>
<path d="M38.5 293V300M36.6 293H40.4M36.6 300H40.4" stroke="#EC3F3F" stroke-width="1.05" fill="none"/>
<circle cx="38.3" cy="296.8" r="2.7" fill="none" stroke="#EC3F3F" stroke-width="1.25"/>
<circle cx="38.3" cy="300.2" r="2.7" fill="none" stroke="#EC3F3F" stroke-width="1.25"/>
<path d="M49.5 220V260M47.6 220H51.4M47.6 260H51.4" stroke="#3CAB5E" stroke-width="1.05" fill="none"/>
<path d="M50.5 247V262M48.6 247H52.4M48.6 262H52.4" stroke="#3CAB5E" stroke-width="1.05" fill="none"/>
<path d="M50.5 264.3V279.7M48.6 264.3H52.4M48.6 279.7H52.4" stroke="#3CAB5E" stroke-width="1.05" fill="none"/>
<rect x="47.4" y="268.8" width="5.2" height="5.2" fill="none" stroke="#3CAB5E" stroke-width="1.25"/>
<rect x="46.4" y="223.4" width="5.2" height="5.2" fill="none" stroke="#3CAB5E" stroke-width="1.25"/>
<rect x="47.4" y="238.8" width="5.2" height="5.2" fill="none" stroke="#3CAB5E" stroke-width="1.25"/>
<rect x="47.4" y="250.3" width="5.2" height="5.2" fill="none" stroke="#3CAB5E" stroke-width="1.25"/>
<rect x="47.7" y="223.8" width="5.2" height="5.2" fill="none" stroke="#3CAB5E" stroke-width="1.25"/>
<path d="M53.7 300L56.5 302.8L53.7 305.6L50.9 302.8Z" fill="none" stroke="#1F6FE8" stroke-width="1.25"/>
<path d="M53.7 258.1L56.5 260.9L53.7 263.7L50.9 260.9Z" fill="none" stroke="#1F6FE8" stroke-width="1.25"/>
<path d="M52 226L54.8 228.8L52 231.6L49.2 228.8Z" fill="none" stroke="#1F6FE8" stroke-width="1.25"/>
<path d="M56.5 235.7V247.7M54.6 235.7H58.4M54.6 247.7H58.4" stroke="#1F6FE8" stroke-width="1.05" fill="none"/>
<path d="M56.2 238.9L59 241.7L56.2 244.5L53.4 241.7Z" fill="none" stroke="#1F6FE8" stroke-width="1.25"/>
<path d="M53.7 256.5L56.5 259.3L53.7 262.1L50.9 259.3Z" fill="none" stroke="#1F6FE8" stroke-width="1.25"/>
<path d="M58.3 210.1L61.1 212.9L58.3 215.7L55.5 212.9Z" fill="none" stroke="#1F6FE8" stroke-width="1.25"/>
<path d="M56.9 212.9L59.7 215.7L56.9 218.5L54.1 215.7Z" fill="none" stroke="#1F6FE8" stroke-width="1.25"/>
<path d="M61.1 207.2L63.9 210L61.1 212.8L58.3 210Z" fill="none" stroke="#1F6FE8" stroke-width="1.25"/>
<path d="M55.4 229.3L58.2 232.1L55.4 234.9L52.6 232.1Z" fill="none" stroke="#1F6FE8" stroke-width="1.25"/>
<path d="M64.5 193.6V205M62.6 193.6H66.4M62.6 205H66.4" stroke="#1F6FE8" stroke-width="1.05" fill="none"/>
<path d="M64 197.2L66.8 200L64 202.8L61.2 200Z" fill="none" stroke="#1F6FE8" stroke-width="1.25"/>
<path d="M67.5 198.6V210M65.6 198.6H69.4M65.6 210H69.4" stroke="#1F6FE8" stroke-width="1.05" fill="none"/>
<path d="M67.6 200.8L70.4 203.6L67.6 206.4L64.8 203.6Z" fill="none" stroke="#1F6FE8" stroke-width="1.25"/>
<path d="M60 219.2L62.8 222L60 224.8L57.2 222Z" fill="none" stroke="#1F6FE8" stroke-width="1.25"/>
<path d="M53.5 210V219.3M51.6 210H55.4M51.6 219.3H55.4" stroke="#E0B41C" stroke-width="1.05" fill="none"/>
<path d="M53.3 211.2L56.4 216.62L50.2 216.62Z" fill="none" stroke="#E0B41C" stroke-width="1.25"/>
<path d="M53.5 222V234M51.6 222H55.4M51.6 234H55.4" stroke="#E0B41C" stroke-width="1.05" fill="none"/>
<path d="M53.3 223.3L56.4 228.72L50.2 228.72Z" fill="none" stroke="#E0B41C" stroke-width="1.25"/>
<path d="M59.5 210.7V234.3M57.6 210.7H61.4M57.6 234.3H61.4" stroke="#E0B41C" stroke-width="1.05" fill="none"/>
<path d="M59 214.9L62.1 220.32L55.9 220.32Z" fill="none" stroke="#E0B41C" stroke-width="1.25"/>
<path d="M65.5 206.4V219.3M63.6 206.4H67.4M63.6 219.3H67.4" stroke="#E0B41C" stroke-width="1.05" fill="none"/>
<path d="M65.4 208.3L68.5 213.72L62.3 213.72Z" fill="none" stroke="#E0B41C" stroke-width="1.25"/>
<path d="M70.5 197.1V218.6M68.6 197.1H72.4M68.6 218.6H72.4" stroke="#E0B41C" stroke-width="1.05" fill="none"/>
<path d="M70.4 204L73.5 209.42L67.3 209.42Z" fill="none" stroke="#E0B41C" stroke-width="1.25"/>
<path d="M76.5 190V213.6M74.6 190H78.4M74.6 213.6H78.4" stroke="#E0B41C" stroke-width="1.05" fill="none"/>
<path d="M76.1 197.6L79.2 203.02L73 203.02Z" fill="none" stroke="#E0B41C" stroke-width="1.25"/>
<path d="M81.5 189.3V213.6M79.6 189.3H83.4M79.6 213.6H83.4" stroke="#E0B41C" stroke-width="1.05" fill="none"/>
<path d="M81.4 196.2L84.5 201.62L78.3 201.62Z" fill="none" stroke="#E0B41C" stroke-width="1.25"/>
<path d="M86.5 187.9V219.3M84.6 187.9H88.4M84.6 219.3H88.4" stroke="#E0B41C" stroke-width="1.05" fill="none"/>
<path d="M86.6 197.6L89.7 203.02L83.5 203.02Z" fill="none" stroke="#E0B41C" stroke-width="1.25"/>
<path d="M86.6 195.5L89.7 200.92L83.5 200.92Z" fill="none" stroke="#E0B41C" stroke-width="1.25"/>
<path d="M76.1 200.9L79.2 206.32L73 206.32Z" fill="none" stroke="#E0B41C" stroke-width="1.25"/>
<path d="M81.4 199.9L84.5 205.32L78.3 205.32Z" fill="none" stroke="#E0B41C" stroke-width="1.25"/>
<path d="M77.6 209.5L80.7 204.08L74.5 204.08Z" fill="none" stroke="#A66FEA" stroke-width="1.25"/>
<path d="M79 211.7L82.1 206.28L75.9 206.28Z" fill="none" stroke="#A66FEA" stroke-width="1.25"/>
<path d="M86.9 211.7L90 206.28L83.8 206.28Z" fill="none" stroke="#A66FEA" stroke-width="1.25"/>
<path d="M96.5 195.7V215.7M94.6 195.7H98.4M94.6 215.7H98.4" stroke="#A66FEA" stroke-width="1.05" fill="none"/>
<path d="M96.5 208.8L99.6 203.38L93.4 203.38Z" fill="none" stroke="#A66FEA" stroke-width="1.25"/>
<path d="M69 221.7L72.1 216.28L65.9 216.28Z" fill="none" stroke="#A66FEA" stroke-width="1.25"/>
<path d="M59 222.4L62.1 216.98L55.9 216.98Z" fill="none" stroke="#A66FEA" stroke-width="1.25"/>
<path d="M59.7 226L62.8 220.58L56.6 220.58Z" fill="none" stroke="#A66FEA" stroke-width="1.25"/>
<path d="M106.5 193V207.5M104.6 193H108.4M104.6 207.5H108.4" stroke="#A66FEA" stroke-width="1.05" fill="none"/>
<path d="M106.3 204.6L109.4 199.18L103.2 199.18Z" fill="none" stroke="#A66FEA" stroke-width="1.25"/>
<path d="M114.5 181V207.5M112.6 181H116.4M112.6 207.5H116.4" stroke="#A66FEA" stroke-width="1.05" fill="none"/>
<path d="M114.8 196.1L117.9 190.68L111.7 190.68Z" fill="none" stroke="#A66FEA" stroke-width="1.25"/>
<path d="M114.8 199.5L117.9 194.08L111.7 194.08Z" fill="none" stroke="#A66FEA" stroke-width="1.25"/>
<path d="M125.5 182.7V199M123.6 182.7H127.4M123.6 199H127.4" stroke="#A66FEA" stroke-width="1.05" fill="none"/>
<path d="M125.1 194.4L128.2 188.98L122 188.98Z" fill="none" stroke="#A66FEA" stroke-width="1.25"/>
<path d="M134.5 177.6V207.5M132.6 177.6H136.4M132.6 207.5H136.4" stroke="#A66FEA" stroke-width="1.05" fill="none"/>
<path d="M134.5 193.5L137.6 188.08L131.4 188.08Z" fill="none" stroke="#A66FEA" stroke-width="1.25"/>
<path d="M60.9 225L66.33 221.9L66.33 228.1Z" fill="none" stroke="#3C3C3C" stroke-width="1.25"/>
<path d="M62.9 222L68.33 218.9L68.33 225.1Z" fill="none" stroke="#3C3C3C" stroke-width="1.25"/>
<path d="M75.2 216.4L80.62 213.3L80.62 219.5Z" fill="none" stroke="#3C3C3C" stroke-width="1.25"/>
<path d="M78.5 211.4V224.3M76.6 211.4H80.4M76.6 224.3H80.4" stroke="#3C3C3C" stroke-width="1.05" fill="none"/>
<path d="M75.2 220.7L80.62 217.6L80.62 223.8Z" fill="none" stroke="#3C3C3C" stroke-width="1.25"/>
<path d="M91.5 210V227.1M89.6 210H93.4M89.6 227.1H93.4" stroke="#3C3C3C" stroke-width="1.05" fill="none"/>
<path d="M88 215.7L93.42 212.6L93.42 218.8Z" fill="none" stroke="#3C3C3C" stroke-width="1.25"/>
<path d="M88 220.7L93.42 217.6L93.42 223.8Z" fill="none" stroke="#3C3C3C" stroke-width="1.25"/>
<path d="M104 209.2L109.42 206.1L109.42 212.3Z" fill="none" stroke="#3C3C3C" stroke-width="1.25"/>
<path d="M107.5 205V222M105.6 205H109.4M105.6 222H109.4" stroke="#3C3C3C" stroke-width="1.05" fill="none"/>
<path d="M104 219.5L109.42 216.4L109.42 222.6Z" fill="none" stroke="#3C3C3C" stroke-width="1.25"/>
<path d="M120.5 191.3V214.4M118.6 191.3H122.4M118.6 214.4H122.4" stroke="#3C3C3C" stroke-width="1.05" fill="none"/>
<path d="M117.7 202.4L123.12 199.3L123.12 205.5Z" fill="none" stroke="#3C3C3C" stroke-width="1.25"/>
<path d="M136.5 180V207.5M134.6 180H138.4M134.6 207.5H138.4" stroke="#3C3C3C" stroke-width="1.05" fill="none"/>
<path d="M133.1 193.8L138.52 190.7L138.52 196.9Z" fill="none" stroke="#3C3C3C" stroke-width="1.25"/>
<path d="M150.5 182.7V220.4M148.6 182.7H152.4M148.6 220.4H152.4" stroke="#3C3C3C" stroke-width="1.05" fill="none"/>
<path d="M146.9 193.8L152.32 190.7L152.32 196.9Z" fill="none" stroke="#3C3C3C" stroke-width="1.25"/>
<path d="M146.9 213.5L152.32 210.4L152.32 216.6Z" fill="none" stroke="#3C3C3C" stroke-width="1.25"/>
<path d="M53.7 175.5V317.4" stroke="#0A8A8A" stroke-width="2"/>
<path d="M22.8 317.4v-1.6M22.8 175.5v1.6M58.22 317.4v-1.6M58.22 175.5v1.6M93.65 317.4v-1.6M93.65 175.5v1.6M129.07 317.4v-1.6M129.07 175.5v1.6M164.5 317.4v-1.6M164.5 175.5v1.6M22.6 317.4h1.6M164.5 317.4h-1.6M22.6 291.6h1.6M164.5 291.6h-1.6M22.6 265.8h1.6M164.5 265.8h-1.6M22.6 240h1.6M164.5 240h-1.6M22.6 214.2h1.6M164.5 214.2h-1.6M22.6 188.4h1.6M164.5 188.4h-1.6" stroke="#666" stroke-width="0.9" fill="none"/>
<rect x="22.6" y="175.5" width="141.9" height="141.9" fill="none" stroke="#666" stroke-width="1"/>
<text x="22.8" y="330.6" font-size="12.5" text-anchor="middle" class="t">0</text>
<text x="58.22" y="330.6" font-size="12.5" text-anchor="middle" class="t">3</text>
<text x="93.65" y="330.6" font-size="12.5" text-anchor="middle" class="t">6</text>
<text x="129.07" y="330.6" font-size="12.5" text-anchor="middle" class="t">9</text>
<text x="164.5" y="330.6" font-size="12.5" text-anchor="middle" class="t">12</text>
<text x="21.4" y="322.2" font-size="12.5" text-anchor="end" class="t">0</text>
<text x="21.4" y="296.4" font-size="12.5" text-anchor="end" class="t">1</text>
<text x="21.4" y="270.6" font-size="12.5" text-anchor="end" class="t">2</text>
<text x="21.4" y="244.8" font-size="12.5" text-anchor="end" class="t">3</text>
<text x="21.4" y="219" font-size="12.5" text-anchor="end" class="t">4</text>
<text x="21.4" y="193.2" font-size="12.5" text-anchor="end" class="t">5</text>
<circle cx="106.3" cy="229" r="2.85" fill="none" stroke="#EC3F3F" stroke-width="1.1"/>
<text x="113.79" y="233.8" font-size="12.5" text-anchor="start" textLength="44.65" lengthAdjust="spacingAndGlyphs">ω'=0.41</text>
<rect x="103.7" y="241.8" width="5.2" height="5.2" fill="none" stroke="#3CAB5E" stroke-width="1.1"/>
<text x="113.79" y="249.2" font-size="12.5" text-anchor="start" textLength="44.65" lengthAdjust="spacingAndGlyphs">ω'=0.55</text>
<path d="M106.3 256.7L109.4 259.8L106.3 262.9L103.2 259.8Z" fill="none" stroke="#1F6FE8" stroke-width="1.1"/>
<text x="113.79" y="264.6" font-size="12.5" text-anchor="start" textLength="44.65" lengthAdjust="spacingAndGlyphs">ω'=0.68</text>
<path d="M106.3 271.95L109.55 277.64L103.05 277.64Z" fill="none" stroke="#E0B41C" stroke-width="1.1"/>
<text x="113.79" y="280" font-size="12.5" text-anchor="start" textLength="44.65" lengthAdjust="spacingAndGlyphs">ω'=0.82</text>
<path d="M106.3 293.85L109.55 288.16L103.05 288.16Z" fill="none" stroke="#A66FEA" stroke-width="1.1"/>
<text x="113.79" y="295.4" font-size="12.5" text-anchor="start" textLength="44.65" lengthAdjust="spacingAndGlyphs">ω'=1.09</text>
<path d="M103.2 306L108.62 302.9L108.62 309.1Z" fill="none" stroke="#3C3C3C" stroke-width="1.1"/>
<text x="113.79" y="310.8" font-size="12.5" text-anchor="start" textLength="44.65" lengthAdjust="spacingAndGlyphs">ω'=1.37</text>
<text x="20.25" y="289.5" font-size="10.9" text-anchor="start" textLength="29.46" lengthAdjust="spacingAndGlyphs">RBNE</text>
<text x="61.93" y="266.2" font-size="10.9" text-anchor="start" textLength="22.47" lengthAdjust="spacingAndGlyphs">BNE</text>
<text x="27.85" y="190.19" font-size="12.9" text-anchor="start" textLength="15.22" lengthAdjust="spacingAndGlyphs">(e)</text>
<g transform="translate(-341.9,175.2)"><path d="M341.9 82.5L346.4 74.1L350.9 82.5M341.9 94.4L346.4 103.2L350.9 94.4" fill="none" stroke="#111" stroke-width="1.05"/><text transform="translate(351.1,91.85) rotate(-90)" font-size="12.6" textLength="7.11" lengthAdjust="spacingAndGlyphs">Z</text><text transform="translate(351.0,68.51) rotate(-90)" font-size="12.2" textLength="23.82" lengthAdjust="spacingAndGlyphs">(cm)</text></g>
<text x="92.82" y="346.9" font-size="13.3" text-anchor="start" textLength="6.76" lengthAdjust="spacingAndGlyphs">Γ</text>
<path d="M207.5 303V315.7M205.6 303H209.4M205.6 315.7H209.4" stroke="#EC3F3F" stroke-width="1.05" fill="none"/>
<path d="M207.16 305.49L209.96 308.29L207.16 311.09L204.36 308.29Z" fill="none" stroke="#1F6FE8" stroke-width="1.25"/>
<path d="M210.42 302.2L213.22 305L210.42 307.8L207.62 305Z" fill="none" stroke="#1F6FE8" stroke-width="1.25"/>
<path d="M217.03 305.24L219.83 308.04L217.03 310.84L214.23 308.04Z" fill="none" stroke="#1F6FE8" stroke-width="1.25"/>
<path d="M207.29 303.26L210.39 308.69L204.19 308.69Z" fill="none" stroke="#E0B41C" stroke-width="1.25"/>
<path d="M210.39 303.97L213.49 309.4L207.29 309.4Z" fill="none" stroke="#E0B41C" stroke-width="1.25"/>
<path d="M213.47 302.86L216.57 308.29L210.37 308.29Z" fill="none" stroke="#E0B41C" stroke-width="1.25"/>
<path d="M216.98 303.23L220.08 308.65L213.88 308.65Z" fill="none" stroke="#E0B41C" stroke-width="1.25"/>
<path d="M219.88 306.12L222.98 311.55L216.78 311.55Z" fill="none" stroke="#E0B41C" stroke-width="1.25"/>
<path d="M202.7 312.1L205.8 306.68L199.6 306.68Z" fill="none" stroke="#A66FEA" stroke-width="1.25"/>
<path d="M207.5 301.56V307.99M205.6 301.56H209.4M205.6 307.99H209.4" stroke="#A66FEA" stroke-width="1.05" fill="none"/>
<path d="M207.82 308.57L210.92 303.14L204.72 303.14Z" fill="none" stroke="#A66FEA" stroke-width="1.25"/>
<path d="M213.5 303.98V310.64M211.6 303.98H215.4M211.6 310.64H215.4" stroke="#A66FEA" stroke-width="1.05" fill="none"/>
<path d="M213.44 311.04L216.54 305.62L210.34 305.62Z" fill="none" stroke="#A66FEA" stroke-width="1.25"/>
<path d="M217.38 312.65L220.48 307.22L214.28 307.22Z" fill="none" stroke="#A66FEA" stroke-width="1.25"/>
<path d="M201.67 307.49L207.1 304.39L207.1 310.59Z" fill="none" stroke="#3C3C3C" stroke-width="1.25"/>
<path d="M207.36 304.14L212.79 301.04L212.79 307.24Z" fill="none" stroke="#3C3C3C" stroke-width="1.25"/>
<path d="M210.52 305.52L215.94 302.42L215.94 308.62Z" fill="none" stroke="#3C3C3C" stroke-width="1.25"/>
<path d="M213.17 308.4L218.6 305.3L218.6 311.5Z" fill="none" stroke="#3C3C3C" stroke-width="1.25"/>
<path d="M207.5 288V296M205.6 288H209.4M205.6 296H209.4" stroke="#E0B41C" stroke-width="1.05" fill="none"/>
<path d="M207.4 288.6L210.5 294.02L204.3 294.02Z" fill="none" stroke="#E0B41C" stroke-width="1.25"/>
<path d="M207.4 292L210.5 297.43L204.3 297.43Z" fill="none" stroke="#E0B41C" stroke-width="1.25"/>
<path d="M205.5 297V306M203.6 297H207.4M203.6 306H207.4" stroke="#3CAB5E" stroke-width="1.05" fill="none"/>
<rect x="203.1" y="299.4" width="5.2" height="5.2" fill="none" stroke="#3CAB5E" stroke-width="1.25"/>
<path d="M209.5 294.2V303M207.6 294.2H211.4M207.6 303H211.4" stroke="#3CAB5E" stroke-width="1.05" fill="none"/>
<rect x="206.4" y="295.9" width="5.2" height="5.2" fill="none" stroke="#3CAB5E" stroke-width="1.25"/>
<path d="M216.5 296.8V305M214.6 296.8H218.4M214.6 305H218.4" stroke="#3CAB5E" stroke-width="1.05" fill="none"/>
<rect x="214.2" y="298" width="5.2" height="5.2" fill="none" stroke="#3CAB5E" stroke-width="1.25"/>
<path d="M223.7 290.6L226.5 293.4L223.7 296.2L220.9 293.4Z" fill="none" stroke="#1F6FE8" stroke-width="1.25"/>
<path d="M223.5 289.1V302.8M221.6 289.1H225.4M221.6 302.8H225.4" stroke="#1F6FE8" stroke-width="1.05" fill="none"/>
<path d="M223.7 296.2L226.5 299L223.7 301.8L220.9 299Z" fill="none" stroke="#1F6FE8" stroke-width="1.25"/>
<path d="M225.4 274.2L228.5 268.78L222.3 268.78Z" fill="none" stroke="#A66FEA" stroke-width="1.25"/>
<path d="M223.7 275.9L226.8 270.48L220.6 270.48Z" fill="none" stroke="#A66FEA" stroke-width="1.25"/>
<path d="M222.5 273.2L225.6 278.62L219.4 278.62Z" fill="none" stroke="#E0B41C" stroke-width="1.25"/>
<path d="M224.2 270.6L227.3 276.02L221.1 276.02Z" fill="none" stroke="#E0B41C" stroke-width="1.25"/>
<path d="M217.8 208.9L220.9 203.48L214.7 203.48Z" fill="none" stroke="#A66FEA" stroke-width="1.25"/>
<path d="M212.5 209V217M210.6 209H214.4M210.6 217H214.4" stroke="#3CAB5E" stroke-width="1.05" fill="none"/>
<rect x="210.1" y="210.1" width="5.2" height="5.2" fill="none" stroke="#3CAB5E" stroke-width="1.25"/>
<path d="M214.5 218.7V229.8M212.6 218.7H216.4M212.6 229.8H216.4" stroke="#3CAB5E" stroke-width="1.05" fill="none"/>
<rect x="211.8" y="221.2" width="5.2" height="5.2" fill="none" stroke="#3CAB5E" stroke-width="1.25"/>
<rect x="214.4" y="215.2" width="5.2" height="5.2" fill="none" stroke="#3CAB5E" stroke-width="1.25"/>
<path d="M217.5 211V224M215.6 211H219.4M215.6 224H219.4" stroke="#1F6FE8" stroke-width="1.05" fill="none"/>
<path d="M217.8 213.3L220.6 216.1L217.8 218.9L215 216.1Z" fill="none" stroke="#1F6FE8" stroke-width="1.25"/>
<path d="M219.5 224V236M217.6 224H221.4M217.6 236H221.4" stroke="#1F6FE8" stroke-width="1.05" fill="none"/>
<path d="M219.5 227L222.3 229.8L219.5 232.6L216.7 229.8Z" fill="none" stroke="#1F6FE8" stroke-width="1.25"/>
<path d="M229.5 203V217.8M227.6 203H231.4M227.6 217.8H231.4" stroke="#1F6FE8" stroke-width="1.05" fill="none"/>
<path d="M229.8 207.3L232.6 210.1L229.8 212.9L227 210.1Z" fill="none" stroke="#1F6FE8" stroke-width="1.25"/>
<path d="M232.5 193.8V204M230.6 193.8H234.4M230.6 204H234.4" stroke="#1F6FE8" stroke-width="1.05" fill="none"/>
<path d="M232.4 196.2L235.2 199L232.4 201.8L229.6 199Z" fill="none" stroke="#1F6FE8" stroke-width="1.25"/>
<path d="M234.5 187V198M232.6 187H236.4M232.6 198H236.4" stroke="#1F6FE8" stroke-width="1.05" fill="none"/>
<path d="M234 187.6L236.8 190.4L234 193.2L231.2 190.4Z" fill="none" stroke="#1F6FE8" stroke-width="1.25"/>
<path d="M223.5 214V228M221.6 214H225.4M221.6 228H225.4" stroke="#E0B41C" stroke-width="1.05" fill="none"/>
<path d="M223 217.3L226.1 222.72L219.9 222.72Z" fill="none" stroke="#E0B41C" stroke-width="1.25"/>
<path d="M226.5 210V232M224.6 210H228.4M224.6 232H228.4" stroke="#E0B41C" stroke-width="1.05" fill="none"/>
<path d="M226.4 213.9L229.5 219.32L223.3 219.32Z" fill="none" stroke="#E0B41C" stroke-width="1.25"/>
<path d="M231.5 204V226M229.6 204H233.4M229.6 226H233.4" stroke="#E0B41C" stroke-width="1.05" fill="none"/>
<path d="M231.5 207.9L234.6 213.32L228.4 213.32Z" fill="none" stroke="#E0B41C" stroke-width="1.25"/>
<path d="M235.5 198V216M233.6 198H237.4M233.6 216H237.4" stroke="#E0B41C" stroke-width="1.05" fill="none"/>
<path d="M235.8 204.4L238.9 209.82L232.7 209.82Z" fill="none" stroke="#E0B41C" stroke-width="1.25"/>
<path d="M238.4 202.7L241.5 208.12L235.3 208.12Z" fill="none" stroke="#E0B41C" stroke-width="1.25"/>
<path d="M241.5 186V212M239.6 186H243.4M239.6 212H243.4" stroke="#E0B41C" stroke-width="1.05" fill="none"/>
<path d="M241 195L244.1 200.42L237.9 200.42Z" fill="none" stroke="#E0B41C" stroke-width="1.25"/>
<path d="M241.8 201L244.9 206.42L238.7 206.42Z" fill="none" stroke="#E0B41C" stroke-width="1.25"/>
<path d="M246.5 181.8V204.1M244.6 181.8H248.4M244.6 204.1H248.4" stroke="#E0B41C" stroke-width="1.05" fill="none"/>
<path d="M246 187.3L249.1 192.72L242.9 192.72Z" fill="none" stroke="#E0B41C" stroke-width="1.25"/>
<path d="M246 191.6L249.1 197.02L242.9 197.02Z" fill="none" stroke="#E0B41C" stroke-width="1.25"/>
<path d="M251.5 176.7V199M249.6 176.7H253.4M249.6 199H253.4" stroke="#E0B41C" stroke-width="1.05" fill="none"/>
<path d="M251.2 183.9L254.3 189.32L248.1 189.32Z" fill="none" stroke="#E0B41C" stroke-width="1.25"/>
<path d="M251.2 189L254.3 194.42L248.1 194.42Z" fill="none" stroke="#E0B41C" stroke-width="1.25"/>
<path d="M227.2 229.5L230.3 224.08L224.1 224.08Z" fill="none" stroke="#A66FEA" stroke-width="1.25"/>
<path d="M234 222.6L237.1 217.18L230.9 217.18Z" fill="none" stroke="#A66FEA" stroke-width="1.25"/>
<path d="M241.8 220.1L244.9 214.68L238.7 214.68Z" fill="none" stroke="#A66FEA" stroke-width="1.25"/>
<path d="M251.5 200V213M249.6 200H253.4M249.6 213H253.4" stroke="#A66FEA" stroke-width="1.05" fill="none"/>
<path d="M251.2 210.6L254.3 205.18L248.1 205.18Z" fill="none" stroke="#A66FEA" stroke-width="1.25"/>
<path d="M259 211.5L262.1 206.08L255.9 206.08Z" fill="none" stroke="#A66FEA" stroke-width="1.25"/>
<path d="M268.3 209.8L271.4 204.38L265.2 204.38Z" fill="none" stroke="#A66FEA" stroke-width="1.25"/>
<path d="M260.1 212.3L263.2 206.88L257 206.88Z" fill="none" stroke="#A66FEA" stroke-width="1.25"/>
<path d="M276.5 193V207.5M274.6 193H278.4M274.6 207.5H278.4" stroke="#A66FEA" stroke-width="1.05" fill="none"/>
<path d="M276.4 202.1L279.5 196.68L273.3 196.68Z" fill="none" stroke="#A66FEA" stroke-width="1.25"/>
<path d="M285.5 182.7V205.8M283.6 182.7H287.4M283.6 205.8H287.4" stroke="#A66FEA" stroke-width="1.05" fill="none"/>
<path d="M285.8 195.2L288.9 189.78L282.7 189.78Z" fill="none" stroke="#A66FEA" stroke-width="1.25"/>
<path d="M285.8 200.4L288.9 194.98L282.7 194.98Z" fill="none" stroke="#A66FEA" stroke-width="1.25"/>
<path d="M226.7 229L232.12 225.9L232.12 232.1Z" fill="none" stroke="#3C3C3C" stroke-width="1.25"/>
<path d="M241.3 213.5L246.72 210.4L246.72 216.6Z" fill="none" stroke="#3C3C3C" stroke-width="1.25"/>
<path d="M253.3 215.2L258.72 212.1L258.72 218.3Z" fill="none" stroke="#3C3C3C" stroke-width="1.25"/>
<path d="M265.2 211.8L270.62 208.7L270.62 214.9Z" fill="none" stroke="#3C3C3C" stroke-width="1.25"/>
<path d="M253.6 214.4L259.02 211.3L259.02 217.5Z" fill="none" stroke="#3C3C3C" stroke-width="1.25"/>
<path d="M266.5 210.1L271.93 207L271.93 213.2Z" fill="none" stroke="#3C3C3C" stroke-width="1.25"/>
<path d="M269.5 205.8V218.7M267.6 205.8H271.4M267.6 218.7H271.4" stroke="#3C3C3C" stroke-width="1.05" fill="none"/>
<path d="M266.5 213.5L271.93 210.4L271.93 216.6Z" fill="none" stroke="#3C3C3C" stroke-width="1.25"/>
<path d="M281.5 190.4V211.8M279.6 190.4H283.4M279.6 211.8H283.4" stroke="#3C3C3C" stroke-width="1.05" fill="none"/>
<path d="M278.4 201.5L283.82 198.4L283.82 204.6Z" fill="none" stroke="#3C3C3C" stroke-width="1.25"/>
<path d="M281 200.7L286.43 197.6L286.43 203.8Z" fill="none" stroke="#3C3C3C" stroke-width="1.25"/>
<path d="M296.5 184.4V206.7M294.6 184.4H298.4M294.6 206.7H298.4" stroke="#3C3C3C" stroke-width="1.05" fill="none"/>
<path d="M293 195.5L298.43 192.4L298.43 198.6Z" fill="none" stroke="#3C3C3C" stroke-width="1.25"/>
<path d="M228.3 236.3L233.72 233.2L233.72 239.4Z" fill="none" stroke="#3C3C3C" stroke-width="1.25"/>
<path d="M221 175.5V317.4" stroke="#0A8A8A" stroke-width="2"/>
<path d="M193.8 317.4v-1.6M193.8 175.5v1.6M229.23 317.4v-1.6M229.23 175.5v1.6M264.65 317.4v-1.6M264.65 175.5v1.6M300.07 317.4v-1.6M300.07 175.5v1.6M335.5 317.4v-1.6M335.5 175.5v1.6M193.5 317.4h1.6M335.5 317.4h-1.6M193.5 291.6h1.6M335.5 291.6h-1.6M193.5 265.8h1.6M335.5 265.8h-1.6M193.5 240h1.6M335.5 240h-1.6M193.5 214.2h1.6M335.5 214.2h-1.6M193.5 188.4h1.6M335.5 188.4h-1.6" stroke="#666" stroke-width="0.9" fill="none"/>
<rect x="193.5" y="175.5" width="142" height="141.9" fill="none" stroke="#666" stroke-width="1"/>
<text x="193.8" y="330.6" font-size="12.5" text-anchor="middle" class="t">0</text>
<text x="229.23" y="330.6" font-size="12.5" text-anchor="middle" class="t">3</text>
<text x="264.65" y="330.6" font-size="12.5" text-anchor="middle" class="t">6</text>
<text x="300.07" y="330.6" font-size="12.5" text-anchor="middle" class="t">9</text>
<text x="335.5" y="330.6" font-size="12.5" text-anchor="middle" class="t">12</text>
<text x="192.3" y="322.2" font-size="12.5" text-anchor="end" class="t">0</text>
<text x="192.3" y="296.4" font-size="12.5" text-anchor="end" class="t">1</text>
<text x="192.3" y="270.6" font-size="12.5" text-anchor="end" class="t">2</text>
<text x="192.3" y="244.8" font-size="12.5" text-anchor="end" class="t">3</text>
<text x="192.3" y="219" font-size="12.5" text-anchor="end" class="t">4</text>
<text x="192.3" y="193.2" font-size="12.5" text-anchor="end" class="t">5</text>
<circle cx="277.1" cy="229" r="2.85" fill="none" stroke="#EC3F3F" stroke-width="1.1"/>
<text x="284.59" y="233.8" font-size="12.5" text-anchor="start" textLength="44.65" lengthAdjust="spacingAndGlyphs">ω'=0.39</text>
<rect x="274.5" y="241.8" width="5.2" height="5.2" fill="none" stroke="#3CAB5E" stroke-width="1.1"/>
<text x="284.59" y="249.2" font-size="12.5" text-anchor="start" textLength="44.65" lengthAdjust="spacingAndGlyphs">ω'=0.52</text>
<path d="M277.1 256.7L280.2 259.8L277.1 262.9L274 259.8Z" fill="none" stroke="#1F6FE8" stroke-width="1.1"/>
<text x="284.59" y="264.6" font-size="12.5" text-anchor="start" textLength="44.65" lengthAdjust="spacingAndGlyphs">ω'=0.65</text>
<path d="M277.1 271.95L280.35 277.64L273.85 277.64Z" fill="none" stroke="#E0B41C" stroke-width="1.1"/>
<text x="284.59" y="280" font-size="12.5" text-anchor="start" textLength="44.65" lengthAdjust="spacingAndGlyphs">ω'=0.78</text>
<path d="M277.1 293.85L280.35 288.16L273.85 288.16Z" fill="none" stroke="#A66FEA" stroke-width="1.1"/>
<text x="284.59" y="295.4" font-size="12.5" text-anchor="start" textLength="44.65" lengthAdjust="spacingAndGlyphs">ω'=1.04</text>
<path d="M274 306L279.43 302.9L279.43 309.1Z" fill="none" stroke="#3C3C3C" stroke-width="1.1"/>
<text x="284.59" y="310.8" font-size="12.5" text-anchor="start" textLength="44.65" lengthAdjust="spacingAndGlyphs">ω'=1.30</text>
<text x="191.95" y="278" font-size="10.9" text-anchor="start" textLength="29.46" lengthAdjust="spacingAndGlyphs">RBNE</text>
<text x="232.23" y="254.7" font-size="10.9" text-anchor="start" textLength="22.47" lengthAdjust="spacingAndGlyphs">BNE</text>
<text x="198.42" y="190.19" font-size="12.9" text-anchor="start" textLength="13.81" lengthAdjust="spacingAndGlyphs">(f)</text>
<g transform="translate(-171,171.1)"><path d="M341.9 82.5L346.4 74.1L350.9 82.5M341.9 94.4L346.4 103.2L350.9 94.4" fill="none" stroke="#111" stroke-width="1.05"/><text transform="translate(351.1,91.85) rotate(-90)" font-size="12.6" textLength="7.11" lengthAdjust="spacingAndGlyphs">Z</text><text transform="translate(351.0,68.51) rotate(-90)" font-size="12.2" textLength="23.82" lengthAdjust="spacingAndGlyphs">(cm)</text></g>
<text x="263.72" y="346.9" font-size="13.3" text-anchor="start" textLength="6.76" lengthAdjust="spacingAndGlyphs">Γ</text>
<circle cx="388" cy="201.4" r="2.7" fill="none" stroke="#EC3F3F" stroke-width="1.25"/>
<path d="M394.5 209.4V212.6M392.6 209.4H396.4M392.6 212.6H396.4" stroke="#EC3F3F" stroke-width="1.05" fill="none"/>
<circle cx="394.2" cy="211" r="2.7" fill="none" stroke="#EC3F3F" stroke-width="1.25"/>
<path d="M394.5 213.9V217.1M392.6 213.9H396.4M392.6 217.1H396.4" stroke="#EC3F3F" stroke-width="1.05" fill="none"/>
<circle cx="394.2" cy="215.5" r="2.7" fill="none" stroke="#EC3F3F" stroke-width="1.25"/>
<path d="M423.5 204.3V208.7M421.6 204.3H425.4M421.6 208.7H425.4" stroke="#EC3F3F" stroke-width="1.05" fill="none"/>
<circle cx="423.6" cy="206.5" r="2.7" fill="none" stroke="#EC3F3F" stroke-width="1.25"/>
<path d="M435.5 207.6V211.2M433.6 207.6H437.4M433.6 211.2H437.4" stroke="#EC3F3F" stroke-width="1.05" fill="none"/>
<circle cx="435.4" cy="209.4" r="2.7" fill="none" stroke="#EC3F3F" stroke-width="1.25"/>
<path d="M453.5 203.9V207.1M451.6 203.9H455.4M451.6 207.1H455.4" stroke="#EC3F3F" stroke-width="1.05" fill="none"/>
<circle cx="453" cy="205.5" r="2.7" fill="none" stroke="#EC3F3F" stroke-width="1.25"/>
<path d="M453.5 207.9V211.1M451.6 207.9H455.4M451.6 211.1H455.4" stroke="#EC3F3F" stroke-width="1.05" fill="none"/>
<circle cx="453" cy="209.5" r="2.7" fill="none" stroke="#EC3F3F" stroke-width="1.25"/>
<path d="M470.5 205.5V209.5M468.6 205.5H472.4M468.6 209.5H472.4" stroke="#EC3F3F" stroke-width="1.05" fill="none"/>
<circle cx="470.7" cy="207.5" r="2.7" fill="none" stroke="#EC3F3F" stroke-width="1.25"/>
<path d="M482.5 203.1V206.3M480.6 203.1H484.4M480.6 206.3H484.4" stroke="#EC3F3F" stroke-width="1.05" fill="none"/>
<circle cx="482.5" cy="204.7" r="2.7" fill="none" stroke="#EC3F3F" stroke-width="1.25"/>
<path d="M482.5 205.2V208.4M480.6 205.2H484.4M480.6 208.4H484.4" stroke="#EC3F3F" stroke-width="1.05" fill="none"/>
<circle cx="482.5" cy="206.8" r="2.7" fill="none" stroke="#EC3F3F" stroke-width="1.25"/>
<path d="M482.5 207.8V211M480.6 207.8H484.4M480.6 211H484.4" stroke="#EC3F3F" stroke-width="1.05" fill="none"/>
<circle cx="482.5" cy="209.4" r="2.7" fill="none" stroke="#EC3F3F" stroke-width="1.25"/>
<path d="M500.5 209.5V214.3M498.6 209.5H502.4M498.6 214.3H502.4" stroke="#EC3F3F" stroke-width="1.05" fill="none"/>
<circle cx="500.5" cy="211.9" r="2.7" fill="none" stroke="#EC3F3F" stroke-width="1.25"/>
<path d="M394.5 195.2V231.2M392.6 195.2H396.4M392.6 231.2H396.4" stroke="#3CAB5E" stroke-width="1.05" fill="none"/>
<path d="M394.5 203.1V206.3M392.6 203.1H396.4M392.6 206.3H396.4" stroke="#3CAB5E" stroke-width="1.05" fill="none"/>
<rect x="391.6" y="202.1" width="5.2" height="5.2" fill="none" stroke="#3CAB5E" stroke-width="1.25"/>
<path d="M394.5 215.9V219.1M392.6 215.9H396.4M392.6 219.1H396.4" stroke="#3CAB5E" stroke-width="1.05" fill="none"/>
<rect x="391.6" y="214.9" width="5.2" height="5.2" fill="none" stroke="#3CAB5E" stroke-width="1.25"/>
<path d="M394.5 219.9V223.1M392.6 219.9H396.4M392.6 223.1H396.4" stroke="#3CAB5E" stroke-width="1.05" fill="none"/>
<rect x="391.6" y="218.9" width="5.2" height="5.2" fill="none" stroke="#3CAB5E" stroke-width="1.25"/>
<path d="M411.5 205.2V224M409.6 205.2H413.4M409.6 224H413.4" stroke="#3CAB5E" stroke-width="1.05" fill="none"/>
<rect x="409.3" y="212.1" width="5.2" height="5.2" fill="none" stroke="#3CAB5E" stroke-width="1.25"/>
<path d="M423.5 203.8V207M421.6 203.8H425.4M421.6 207H425.4" stroke="#3CAB5E" stroke-width="1.05" fill="none"/>
<rect x="421" y="202.8" width="5.2" height="5.2" fill="none" stroke="#3CAB5E" stroke-width="1.25"/>
<path d="M423.5 206.7V209.9M421.6 206.7H425.4M421.6 209.9H425.4" stroke="#3CAB5E" stroke-width="1.05" fill="none"/>
<rect x="421" y="205.7" width="5.2" height="5.2" fill="none" stroke="#3CAB5E" stroke-width="1.25"/>
<path d="M435.5 205.2V208.4M433.6 205.2H437.4M433.6 208.4H437.4" stroke="#3CAB5E" stroke-width="1.05" fill="none"/>
<rect x="432.8" y="204.2" width="5.2" height="5.2" fill="none" stroke="#3CAB5E" stroke-width="1.25"/>
<path d="M453.5 201V204.2M451.6 201H455.4M451.6 204.2H455.4" stroke="#3CAB5E" stroke-width="1.05" fill="none"/>
<rect x="450.4" y="200" width="5.2" height="5.2" fill="none" stroke="#3CAB5E" stroke-width="1.25"/>
<path d="M453.5 204V207.2M451.6 204H455.4M451.6 207.2H455.4" stroke="#3CAB5E" stroke-width="1.05" fill="none"/>
<rect x="450.4" y="203" width="5.2" height="5.2" fill="none" stroke="#3CAB5E" stroke-width="1.25"/>
<path d="M453.5 206.9V210.1M451.6 206.9H455.4M451.6 210.1H455.4" stroke="#3CAB5E" stroke-width="1.05" fill="none"/>
<rect x="450.4" y="205.9" width="5.2" height="5.2" fill="none" stroke="#3CAB5E" stroke-width="1.25"/>
<path d="M453.5 208.4V211.6M451.6 208.4H455.4M451.6 211.6H455.4" stroke="#3CAB5E" stroke-width="1.05" fill="none"/>
<rect x="450.4" y="207.4" width="5.2" height="5.2" fill="none" stroke="#3CAB5E" stroke-width="1.25"/>
<path d="M470.5 202.1V205.3M468.6 202.1H472.4M468.6 205.3H472.4" stroke="#3CAB5E" stroke-width="1.05" fill="none"/>
<rect x="468.1" y="201.1" width="5.2" height="5.2" fill="none" stroke="#3CAB5E" stroke-width="1.25"/>
<path d="M470.5 203.3V206.5M468.6 203.3H472.4M468.6 206.5H472.4" stroke="#3CAB5E" stroke-width="1.05" fill="none"/>
<rect x="468.1" y="202.3" width="5.2" height="5.2" fill="none" stroke="#3CAB5E" stroke-width="1.25"/>
<path d="M482.5 212.6V215.8M480.6 212.6H484.4M480.6 215.8H484.4" stroke="#3CAB5E" stroke-width="1.05" fill="none"/>
<rect x="479.9" y="211.6" width="5.2" height="5.2" fill="none" stroke="#3CAB5E" stroke-width="1.25"/>
<path d="M482.5 215.4V218.6M480.6 215.4H484.4M480.6 218.6H484.4" stroke="#3CAB5E" stroke-width="1.05" fill="none"/>
<rect x="479.9" y="214.4" width="5.2" height="5.2" fill="none" stroke="#3CAB5E" stroke-width="1.25"/>
<path d="M500.5 220.3V225.1M498.6 220.3H502.4M498.6 225.1H502.4" stroke="#3CAB5E" stroke-width="1.05" fill="none"/>
<rect x="497.9" y="220.1" width="5.2" height="5.2" fill="none" stroke="#3CAB5E" stroke-width="1.25"/>
<path d="M394.2 224.2L397.2 227.2L394.2 230.2L391.2 227.2Z" fill="#1F6FE8" fill-opacity="0.55" stroke="#1F6FE8" stroke-width="1.3"/>
<path d="M423.6 214L426.6 217L423.6 220L420.6 217Z" fill="#1F6FE8" fill-opacity="0.55" stroke="#1F6FE8" stroke-width="1.3"/>
<path d="M453 210.4L456 213.4L453 216.4L450 213.4Z" fill="#1F6FE8" fill-opacity="0.55" stroke="#1F6FE8" stroke-width="1.3"/>
<path d="M482.5 216.5L485.5 219.5L482.5 222.5L479.5 219.5Z" fill="#1F6FE8" fill-opacity="0.55" stroke="#1F6FE8" stroke-width="1.3"/>
<path d="M364.8 317.4v-1.6M364.8 175.5v1.6M394.32 317.4v-1.6M394.32 175.5v1.6M423.84 317.4v-1.6M423.84 175.5v1.6M453.36 317.4v-1.6M453.36 175.5v1.6M482.88 317.4v-1.6M482.88 175.5v1.6M364.5 317.4h1.6M506.5 317.4h-1.6M364.5 291.6h1.6M506.5 291.6h-1.6M364.5 265.8h1.6M506.5 265.8h-1.6M364.5 240h1.6M506.5 240h-1.6M364.5 214.2h1.6M506.5 214.2h-1.6M364.5 188.4h1.6M506.5 188.4h-1.6" stroke="#666" stroke-width="0.9" fill="none"/>
<rect x="364.5" y="175.5" width="142" height="141.9" fill="none" stroke="#666" stroke-width="1"/>
<text x="364.8" y="330.6" font-size="12.5" text-anchor="middle" class="t">1</text>
<text x="394.32" y="330.6" font-size="12.5" text-anchor="middle" class="t">1.5</text>
<text x="423.84" y="330.6" font-size="12.5" text-anchor="middle" class="t">2</text>
<text x="453.36" y="330.6" font-size="12.5" text-anchor="middle" class="t">2.5</text>
<text x="482.88" y="330.6" font-size="12.5" text-anchor="middle" class="t">3</text>
<text x="363.3" y="322.2" font-size="12.5" text-anchor="end" class="t">0</text>
<text x="363.3" y="296.4" font-size="12.5" text-anchor="end" class="t">1</text>
<text x="363.3" y="270.6" font-size="12.5" text-anchor="end" class="t">2</text>
<text x="363.3" y="244.8" font-size="12.5" text-anchor="end" class="t">3</text>
<text x="363.3" y="219" font-size="12.5" text-anchor="end" class="t">4</text>
<text x="363.3" y="193.2" font-size="12.5" text-anchor="end" class="t">5</text>
<circle cx="447.4" cy="276" r="2.85" fill="none" stroke="#EC3F3F" stroke-width="1.1"/>
<text x="455.09" y="280.8" font-size="12.5" text-anchor="start" textLength="44.65" lengthAdjust="spacingAndGlyphs">ω'=0.79</text>
<rect x="444.8" y="288.9" width="5.2" height="5.2" fill="none" stroke="#3CAB5E" stroke-width="1.1"/>
<text x="455.09" y="296.3" font-size="12.5" text-anchor="start" textLength="44.65" lengthAdjust="spacingAndGlyphs">ω'=1.06</text>
<path d="M447.4 303.9L450.5 307L447.4 310.1L444.3 307Z" fill="none" stroke="#1F6FE8" stroke-width="1.1"/>
<text x="455.09" y="311.8" font-size="12.5" text-anchor="start" textLength="44.65" lengthAdjust="spacingAndGlyphs">ω'=1.32</text>
<text x="369.92" y="190.35" font-size="13.12" text-anchor="start" textLength="15.89" lengthAdjust="spacingAndGlyphs">(g)</text>
<g transform="translate(0,175)"><path d="M341.9 82.5L346.4 74.1L350.9 82.5M341.9 94.4L346.4 103.2L350.9 94.4" fill="none" stroke="#111" stroke-width="1.05"/><text transform="translate(351.1,91.85) rotate(-90)" font-size="12.6" textLength="7.11" lengthAdjust="spacingAndGlyphs">Z</text><text transform="translate(351.0,68.51) rotate(-90)" font-size="12.2" textLength="23.82" lengthAdjust="spacingAndGlyphs">(cm)</text></g>
<text x="434.32" y="346.9" font-size="13.3" text-anchor="start" textLength="6.76" lengthAdjust="spacingAndGlyphs">Γ</text>
<circle cx="544.66" cy="194.2" r="2.7" fill="none" stroke="#EC3F3F" stroke-width="1.25"/>
<circle cx="562.37" cy="209.1" r="2.7" fill="none" stroke="#EC3F3F" stroke-width="1.25"/>
<circle cx="588.94" cy="242" r="2.7" fill="none" stroke="#EC3F3F" stroke-width="1.25"/>
<circle cx="611.08" cy="257.4" r="2.7" fill="none" stroke="#EC3F3F" stroke-width="1.25"/>
<circle cx="633.22" cy="265.7" r="2.7" fill="none" stroke="#EC3F3F" stroke-width="1.25"/>
<circle cx="648.01" cy="269.8" r="2.7" fill="none" stroke="#EC3F3F" stroke-width="1.25"/>
<path d="M544.66 318.5v-1.6M544.66 175.5v1.6M588.94 318.5v-1.6M588.94 175.5v1.6M633.22 318.5v-1.6M633.22 175.5v1.6M677.5 318.5v-1.6M677.5 175.5v1.6M535.5 318.5h1.6M677.5 318.5h-1.6M535.5 282.75h1.6M677.5 282.75h-1.6M535.5 247h1.6M677.5 247h-1.6M535.5 211.25h1.6M677.5 211.25h-1.6M535.5 175.5h1.6M677.5 175.5h-1.6" stroke="#666" stroke-width="0.9" fill="none"/>
<rect x="535.5" y="175.5" width="142" height="143" fill="none" stroke="#666" stroke-width="1"/>
<text x="544.66" y="331.7" font-size="12.5" text-anchor="middle" class="t">0.05</text>
<text x="588.94" y="331.7" font-size="12.5" text-anchor="middle" class="t">0.1</text>
<text x="633.22" y="331.7" font-size="12.5" text-anchor="middle" class="t">0.15</text>
<text x="677.5" y="331.7" font-size="12.5" text-anchor="middle" class="t">0.2</text>
<text x="534.3" y="323.3" font-size="12.5" text-anchor="end" class="t">1</text>
<text x="534.3" y="287.55" font-size="12.5" text-anchor="end" class="t">2</text>
<text x="534.3" y="251.8" font-size="12.5" text-anchor="end" class="t">3</text>
<text x="534.3" y="216.05" font-size="12.5" text-anchor="end" class="t">4</text>
<text x="534.3" y="180.3" font-size="12.5" text-anchor="end" class="t">5</text>
<text x="540.27" y="190.12" font-size="13.23" text-anchor="start" textLength="14.89" lengthAdjust="spacingAndGlyphs">(h)</text>
<text transform="translate(523.5,250.9) rotate(-90)" font-size="13.2" textLength="7" lengthAdjust="spacingAndGlyphs">Γ</text>
<text transform="translate(525.6,244.3) rotate(-90)" font-size="7.5">c</text>
<text x="591.4" y="347.8" font-size="12.8">g</text>
<text x="598.6" y="349.2" font-size="7.6" textLength="13.2" lengthAdjust="spacingAndGlyphs">env</text>
<text x="614.2" y="350.2" font-size="15.5">/</text>
<text x="620.3" y="347.8" font-size="12.8">g</text>
</svg>
</body></html>
